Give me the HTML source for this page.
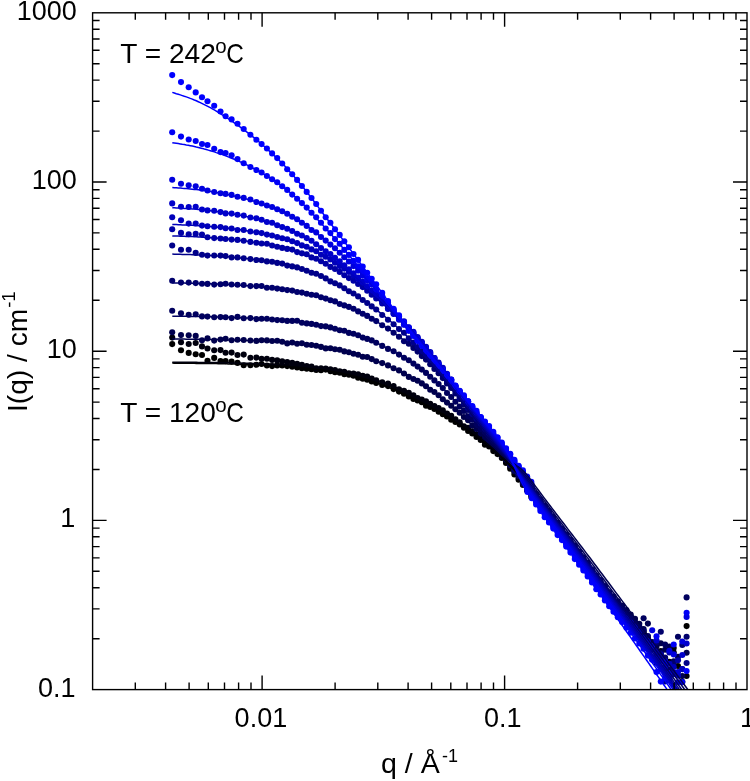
<!DOCTYPE html>
<html lang="en">
<head>
<meta charset="utf-8">
<title>I(q) vs q</title>
<style>
html,body{margin:0;padding:0;background:#fff;}
body{width:750px;height:781px;overflow:hidden;}
svg{display:block;}
</style>
</head>
<body>
<svg width="750" height="781" viewBox="0 0 750 781" role="img" aria-label="I(q) versus q, log-log plot">
<rect x="0" y="0" width="750" height="781" fill="#fff"/>
<g stroke="none">
<g fill="rgb(0,0,0)">
<circle cx="172.2" cy="344.1" r="3.05"/><circle cx="181.0" cy="350.2" r="3.05"/><circle cx="188.7" cy="352.9" r="3.05"/><circle cx="195.7" cy="354.3" r="3.05"/><circle cx="202.0" cy="355.0" r="3.05"/><circle cx="207.5" cy="360.8" r="3.05"/><circle cx="214.2" cy="357.9" r="3.05"/><circle cx="220.5" cy="361.0" r="3.05"/><circle cx="225.6" cy="361.1" r="3.05"/><circle cx="231.6" cy="361.6" r="3.05"/><circle cx="237.5" cy="362.9" r="3.05"/><circle cx="243.7" cy="365.3" r="3.05"/><circle cx="250.4" cy="365.3" r="3.05"/><circle cx="256.4" cy="364.8" r="3.05"/><circle cx="261.6" cy="364.0" r="3.05"/><circle cx="266.9" cy="365.5" r="3.05"/><circle cx="272.1" cy="366.1" r="3.05"/><circle cx="277.2" cy="365.4" r="3.05"/><circle cx="282.2" cy="365.5" r="3.05"/><circle cx="287.2" cy="366.1" r="3.05"/><circle cx="292.2" cy="366.8" r="3.05"/><circle cx="297.1" cy="367.4" r="3.05"/><circle cx="301.9" cy="368.2" r="3.05"/><circle cx="306.7" cy="368.7" r="3.05"/><circle cx="311.5" cy="369.3" r="3.05"/><circle cx="316.2" cy="370.0" r="3.05"/><circle cx="321.0" cy="370.2" r="3.05"/><circle cx="325.7" cy="369.6" r="3.05"/><circle cx="330.4" cy="371.3" r="3.05"/><circle cx="335.0" cy="372.2" r="3.05"/><circle cx="339.7" cy="372.8" r="3.05"/><circle cx="344.3" cy="374.2" r="3.05"/><circle cx="348.9" cy="374.8" r="3.05"/><circle cx="353.5" cy="375.7" r="3.05"/><circle cx="358.1" cy="377.7" r="3.05"/><circle cx="362.7" cy="378.7" r="3.05"/><circle cx="367.2" cy="379.8" r="3.05"/><circle cx="371.7" cy="381.5" r="3.05"/><circle cx="376.2" cy="383.0" r="3.05"/><circle cx="382.2" cy="384.9" r="3.05"/><circle cx="388.0" cy="386.1" r="3.05"/><circle cx="393.6" cy="389.1" r="3.05"/><circle cx="399.0" cy="391.6" r="3.05"/><circle cx="404.0" cy="393.7" r="3.05"/><circle cx="408.8" cy="396.4" r="3.05"/><circle cx="413.4" cy="399.0" r="3.05"/><circle cx="417.6" cy="400.4" r="3.05"/><circle cx="421.8" cy="402.3" r="3.05"/><circle cx="426.0" cy="405.7" r="3.05"/><circle cx="430.2" cy="406.9" r="3.05"/><circle cx="434.4" cy="408.9" r="3.05"/><circle cx="438.6" cy="411.8" r="3.05"/><circle cx="442.8" cy="414.3" r="3.05"/><circle cx="447.0" cy="416.4" r="3.05"/><circle cx="451.2" cy="419.7" r="3.05"/><circle cx="455.4" cy="421.9" r="3.05"/><circle cx="459.7" cy="424.5" r="3.05"/><circle cx="463.9" cy="427.8" r="3.05"/><circle cx="468.1" cy="431.0" r="3.05"/><circle cx="472.3" cy="433.4" r="3.05"/><circle cx="476.5" cy="437.0" r="3.05"/><circle cx="480.7" cy="440.0" r="3.05"/><circle cx="484.9" cy="444.7" r="3.05"/><circle cx="489.1" cy="446.5" r="3.05"/><circle cx="493.3" cy="451.1" r="3.05"/><circle cx="497.5" cy="454.1" r="3.05"/><circle cx="501.8" cy="458.0" r="3.05"/><circle cx="506.0" cy="463.0" r="3.05"/><circle cx="510.2" cy="468.7" r="3.05"/><circle cx="514.4" cy="474.5" r="3.05"/><circle cx="518.6" cy="479.7" r="3.05"/><circle cx="522.9" cy="484.9" r="3.05"/><circle cx="527.1" cy="490.6" r="3.05"/><circle cx="531.3" cy="496.9" r="3.05"/><circle cx="527.5" cy="488.5" r="3.05"/><circle cx="531.8" cy="494.2" r="3.05"/><circle cx="536.1" cy="500.4" r="3.05"/><circle cx="540.4" cy="506.6" r="3.05"/><circle cx="544.7" cy="512.1" r="3.05"/><circle cx="549.0" cy="517.5" r="3.05"/><circle cx="553.3" cy="523.5" r="3.05"/><circle cx="557.6" cy="529.3" r="3.05"/><circle cx="561.9" cy="536.2" r="3.05"/><circle cx="566.2" cy="541.2" r="3.05"/><circle cx="570.5" cy="547.8" r="3.05"/><circle cx="574.8" cy="553.5" r="3.05"/><circle cx="579.1" cy="559.7" r="3.05"/><circle cx="583.4" cy="565.3" r="3.05"/><circle cx="587.7" cy="570.9" r="3.05"/><circle cx="592.0" cy="576.8" r="3.05"/><circle cx="596.3" cy="582.9" r="3.05"/><circle cx="600.6" cy="588.7" r="3.05"/><circle cx="604.9" cy="594.1" r="3.05"/><circle cx="609.2" cy="599.5" r="3.05"/><circle cx="613.5" cy="605.2" r="3.05"/><circle cx="617.8" cy="608.8" r="3.05"/><circle cx="622.1" cy="614.1" r="3.05"/><circle cx="626.4" cy="618.1" r="3.05"/><circle cx="630.7" cy="622.8" r="3.05"/><circle cx="635.0" cy="627.4" r="3.05"/><circle cx="639.3" cy="631.5" r="3.05"/><circle cx="643.6" cy="633.6" r="3.05"/><circle cx="647.9" cy="637.7" r="3.05"/><circle cx="652.2" cy="644.0" r="3.05"/><circle cx="656.5" cy="662.8" r="3.05"/><circle cx="660.8" cy="655.1" r="3.05"/><circle cx="665.1" cy="658.6" r="3.05"/><circle cx="669.4" cy="679.0" r="3.05"/><circle cx="673.7" cy="652.3" r="3.05"/><circle cx="678.0" cy="666.0" r="3.05"/><circle cx="682.3" cy="681.7" r="3.05"/><circle cx="686.6" cy="626.1" r="3.05"/>
</g>
<g fill="rgb(0,0,14)">
<circle cx="172.2" cy="337.6" r="3.05"/><circle cx="181.0" cy="342.2" r="3.05"/><circle cx="188.7" cy="344.0" r="3.05"/><circle cx="195.7" cy="343.0" r="3.05"/><circle cx="202.0" cy="346.4" r="3.05"/><circle cx="207.5" cy="348.5" r="3.05"/><circle cx="214.2" cy="350.3" r="3.05"/><circle cx="220.5" cy="350.1" r="3.05"/><circle cx="225.6" cy="352.8" r="3.05"/><circle cx="231.6" cy="352.6" r="3.05"/><circle cx="237.5" cy="355.0" r="3.05"/><circle cx="243.7" cy="354.6" r="3.05"/><circle cx="250.4" cy="357.7" r="3.05"/><circle cx="256.4" cy="357.6" r="3.05"/><circle cx="261.6" cy="358.8" r="3.05"/><circle cx="266.9" cy="358.8" r="3.05"/><circle cx="272.1" cy="359.9" r="3.05"/><circle cx="277.2" cy="360.4" r="3.05"/><circle cx="282.2" cy="361.3" r="3.05"/><circle cx="287.2" cy="362.0" r="3.05"/><circle cx="292.2" cy="362.9" r="3.05"/><circle cx="297.1" cy="363.9" r="3.05"/><circle cx="301.9" cy="364.9" r="3.05"/><circle cx="306.7" cy="366.0" r="3.05"/><circle cx="311.5" cy="366.5" r="3.05"/><circle cx="316.2" cy="368.4" r="3.05"/><circle cx="321.0" cy="368.3" r="3.05"/><circle cx="325.7" cy="368.5" r="3.05"/><circle cx="330.4" cy="369.4" r="3.05"/><circle cx="335.0" cy="370.1" r="3.05"/><circle cx="339.7" cy="371.2" r="3.05"/><circle cx="344.3" cy="371.7" r="3.05"/><circle cx="348.9" cy="373.3" r="3.05"/><circle cx="353.5" cy="373.6" r="3.05"/><circle cx="358.1" cy="374.2" r="3.05"/><circle cx="362.7" cy="375.9" r="3.05"/><circle cx="367.2" cy="376.6" r="3.05"/><circle cx="371.7" cy="378.6" r="3.05"/><circle cx="376.2" cy="380.4" r="3.05"/><circle cx="382.2" cy="382.3" r="3.05"/><circle cx="388.0" cy="383.6" r="3.05"/><circle cx="393.6" cy="386.0" r="3.05"/><circle cx="399.0" cy="389.2" r="3.05"/><circle cx="404.0" cy="390.8" r="3.05"/><circle cx="408.8" cy="392.9" r="3.05"/><circle cx="413.4" cy="395.4" r="3.05"/><circle cx="417.6" cy="398.0" r="3.05"/><circle cx="421.8" cy="399.6" r="3.05"/><circle cx="426.0" cy="401.3" r="3.05"/><circle cx="430.2" cy="403.7" r="3.05"/><circle cx="434.4" cy="406.1" r="3.05"/><circle cx="438.6" cy="408.0" r="3.05"/><circle cx="442.8" cy="410.4" r="3.05"/><circle cx="447.0" cy="413.5" r="3.05"/><circle cx="451.2" cy="415.9" r="3.05"/><circle cx="455.4" cy="419.2" r="3.05"/><circle cx="459.7" cy="422.2" r="3.05"/><circle cx="463.9" cy="426.2" r="3.05"/><circle cx="468.1" cy="427.9" r="3.05"/><circle cx="472.3" cy="431.4" r="3.05"/><circle cx="476.5" cy="434.7" r="3.05"/><circle cx="480.7" cy="438.4" r="3.05"/><circle cx="484.9" cy="442.1" r="3.05"/><circle cx="489.1" cy="445.0" r="3.05"/><circle cx="493.3" cy="448.6" r="3.05"/><circle cx="497.5" cy="452.0" r="3.05"/><circle cx="501.8" cy="456.3" r="3.05"/><circle cx="506.0" cy="461.6" r="3.05"/><circle cx="510.2" cy="466.9" r="3.05"/><circle cx="514.4" cy="472.0" r="3.05"/><circle cx="518.6" cy="478.0" r="3.05"/><circle cx="522.9" cy="483.9" r="3.05"/><circle cx="527.1" cy="489.9" r="3.05"/><circle cx="531.3" cy="495.0" r="3.05"/><circle cx="527.5" cy="486.5" r="3.05"/><circle cx="531.8" cy="492.7" r="3.05"/><circle cx="536.1" cy="499.7" r="3.05"/><circle cx="540.4" cy="504.4" r="3.05"/><circle cx="544.7" cy="511.0" r="3.05"/><circle cx="549.0" cy="517.1" r="3.05"/><circle cx="553.3" cy="522.8" r="3.05"/><circle cx="557.6" cy="528.5" r="3.05"/><circle cx="561.9" cy="534.7" r="3.05"/><circle cx="566.2" cy="540.5" r="3.05"/><circle cx="570.5" cy="546.3" r="3.05"/><circle cx="574.8" cy="551.5" r="3.05"/><circle cx="579.1" cy="558.0" r="3.05"/><circle cx="583.4" cy="563.6" r="3.05"/><circle cx="587.7" cy="569.6" r="3.05"/><circle cx="592.0" cy="575.8" r="3.05"/><circle cx="596.3" cy="581.9" r="3.05"/><circle cx="600.6" cy="587.8" r="3.05"/><circle cx="604.9" cy="592.8" r="3.05"/><circle cx="609.2" cy="598.4" r="3.05"/><circle cx="613.5" cy="603.3" r="3.05"/><circle cx="617.8" cy="607.8" r="3.05"/><circle cx="622.1" cy="612.1" r="3.05"/><circle cx="626.4" cy="615.6" r="3.05"/><circle cx="630.7" cy="619.6" r="3.05"/><circle cx="635.0" cy="623.9" r="3.05"/><circle cx="639.3" cy="627.2" r="3.05"/><circle cx="643.6" cy="631.3" r="3.05"/><circle cx="647.9" cy="637.1" r="3.05"/><circle cx="652.2" cy="644.5" r="3.05"/><circle cx="656.5" cy="643.0" r="3.05"/><circle cx="660.8" cy="651.1" r="3.05"/><circle cx="665.1" cy="660.8" r="3.05"/><circle cx="669.4" cy="661.8" r="3.05"/><circle cx="673.7" cy="648.1" r="3.05"/><circle cx="686.6" cy="676.0" r="3.05"/>
</g>
<g fill="rgb(0,0,78)">
<circle cx="172.2" cy="332.3" r="3.05"/><circle cx="181.0" cy="335.1" r="3.05"/><circle cx="188.7" cy="335.2" r="3.05"/><circle cx="195.7" cy="335.9" r="3.05"/><circle cx="202.0" cy="340.3" r="3.05"/><circle cx="207.5" cy="338.4" r="3.05"/><circle cx="214.2" cy="340.6" r="3.05"/><circle cx="220.5" cy="339.6" r="3.05"/><circle cx="225.6" cy="338.7" r="3.05"/><circle cx="231.6" cy="340.2" r="3.05"/><circle cx="237.5" cy="339.8" r="3.05"/><circle cx="243.7" cy="340.0" r="3.05"/><circle cx="250.4" cy="340.5" r="3.05"/><circle cx="256.4" cy="340.9" r="3.05"/><circle cx="261.6" cy="340.3" r="3.05"/><circle cx="266.9" cy="340.4" r="3.05"/><circle cx="272.1" cy="341.0" r="3.05"/><circle cx="277.2" cy="340.8" r="3.05"/><circle cx="282.2" cy="341.7" r="3.05"/><circle cx="287.2" cy="343.4" r="3.05"/><circle cx="292.2" cy="342.5" r="3.05"/><circle cx="297.1" cy="343.8" r="3.05"/><circle cx="301.9" cy="343.3" r="3.05"/><circle cx="306.7" cy="344.7" r="3.05"/><circle cx="311.5" cy="345.0" r="3.05"/><circle cx="316.2" cy="345.8" r="3.05"/><circle cx="321.0" cy="346.9" r="3.05"/><circle cx="325.7" cy="348.4" r="3.05"/><circle cx="330.4" cy="348.3" r="3.05"/><circle cx="335.0" cy="349.2" r="3.05"/><circle cx="339.7" cy="349.8" r="3.05"/><circle cx="344.3" cy="351.4" r="3.05"/><circle cx="348.9" cy="352.2" r="3.05"/><circle cx="353.5" cy="353.8" r="3.05"/><circle cx="358.1" cy="354.8" r="3.05"/><circle cx="362.7" cy="356.8" r="3.05"/><circle cx="367.2" cy="357.0" r="3.05"/><circle cx="371.7" cy="359.1" r="3.05"/><circle cx="376.2" cy="361.2" r="3.05"/><circle cx="382.2" cy="363.1" r="3.05"/><circle cx="388.0" cy="365.4" r="3.05"/><circle cx="393.6" cy="368.2" r="3.05"/><circle cx="399.0" cy="370.4" r="3.05"/><circle cx="404.0" cy="373.5" r="3.05"/><circle cx="408.8" cy="376.9" r="3.05"/><circle cx="413.4" cy="379.0" r="3.05"/><circle cx="417.6" cy="380.7" r="3.05"/><circle cx="421.8" cy="383.4" r="3.05"/><circle cx="426.0" cy="386.3" r="3.05"/><circle cx="430.2" cy="389.7" r="3.05"/><circle cx="434.4" cy="392.0" r="3.05"/><circle cx="438.6" cy="395.2" r="3.05"/><circle cx="442.8" cy="399.2" r="3.05"/><circle cx="447.0" cy="402.6" r="3.05"/><circle cx="451.2" cy="405.8" r="3.05"/><circle cx="455.4" cy="409.2" r="3.05"/><circle cx="459.7" cy="412.8" r="3.05"/><circle cx="463.9" cy="417.0" r="3.05"/><circle cx="468.1" cy="420.3" r="3.05"/><circle cx="472.3" cy="425.6" r="3.05"/><circle cx="476.5" cy="429.1" r="3.05"/><circle cx="480.7" cy="433.7" r="3.05"/><circle cx="484.9" cy="438.6" r="3.05"/><circle cx="489.1" cy="442.5" r="3.05"/><circle cx="493.3" cy="445.8" r="3.05"/><circle cx="497.5" cy="451.1" r="3.05"/><circle cx="501.8" cy="455.7" r="3.05"/><circle cx="506.0" cy="459.6" r="3.05"/><circle cx="510.2" cy="465.1" r="3.05"/><circle cx="514.4" cy="471.2" r="3.05"/><circle cx="518.6" cy="476.0" r="3.05"/><circle cx="522.9" cy="483.4" r="3.05"/><circle cx="527.1" cy="487.0" r="3.05"/><circle cx="531.3" cy="493.4" r="3.05"/><circle cx="527.5" cy="481.8" r="3.05"/><circle cx="531.8" cy="487.9" r="3.05"/><circle cx="536.1" cy="493.8" r="3.05"/><circle cx="540.4" cy="499.6" r="3.05"/><circle cx="544.7" cy="505.9" r="3.05"/><circle cx="549.0" cy="510.6" r="3.05"/><circle cx="553.3" cy="517.1" r="3.05"/><circle cx="557.6" cy="522.7" r="3.05"/><circle cx="561.9" cy="528.7" r="3.05"/><circle cx="566.2" cy="534.5" r="3.05"/><circle cx="570.5" cy="539.8" r="3.05"/><circle cx="574.8" cy="545.6" r="3.05"/><circle cx="579.1" cy="551.9" r="3.05"/><circle cx="583.4" cy="557.5" r="3.05"/><circle cx="587.7" cy="562.9" r="3.05"/><circle cx="592.0" cy="569.7" r="3.05"/><circle cx="596.3" cy="575.6" r="3.05"/><circle cx="600.6" cy="580.0" r="3.05"/><circle cx="604.9" cy="586.1" r="3.05"/><circle cx="609.2" cy="592.2" r="3.05"/><circle cx="613.5" cy="596.6" r="3.05"/><circle cx="617.8" cy="601.2" r="3.05"/><circle cx="622.1" cy="605.7" r="3.05"/><circle cx="626.4" cy="610.1" r="3.05"/><circle cx="630.7" cy="614.6" r="3.05"/><circle cx="635.0" cy="618.9" r="3.05"/><circle cx="639.3" cy="623.8" r="3.05"/><circle cx="643.6" cy="629.0" r="3.05"/><circle cx="647.9" cy="623.6" r="3.05"/><circle cx="652.2" cy="642.1" r="3.05"/><circle cx="656.5" cy="646.6" r="3.05"/><circle cx="660.8" cy="643.2" r="3.05"/><circle cx="665.1" cy="649.8" r="3.05"/><circle cx="669.4" cy="646.6" r="3.05"/><circle cx="673.7" cy="661.4" r="3.05"/><circle cx="678.0" cy="656.8" r="3.05"/><circle cx="682.3" cy="676.1" r="3.05"/><circle cx="686.6" cy="652.7" r="3.05"/>
</g>
<g fill="rgb(0,0,94)">
<circle cx="172.2" cy="310.7" r="3.05"/><circle cx="181.0" cy="313.3" r="3.05"/><circle cx="188.7" cy="314.8" r="3.05"/><circle cx="195.7" cy="314.2" r="3.05"/><circle cx="202.0" cy="316.4" r="3.05"/><circle cx="207.5" cy="316.6" r="3.05"/><circle cx="214.2" cy="317.2" r="3.05"/><circle cx="220.5" cy="317.1" r="3.05"/><circle cx="225.6" cy="317.2" r="3.05"/><circle cx="231.6" cy="318.1" r="3.05"/><circle cx="237.5" cy="316.9" r="3.05"/><circle cx="243.7" cy="318.3" r="3.05"/><circle cx="250.4" cy="318.1" r="3.05"/><circle cx="256.4" cy="319.1" r="3.05"/><circle cx="261.6" cy="318.8" r="3.05"/><circle cx="266.9" cy="318.7" r="3.05"/><circle cx="272.1" cy="319.5" r="3.05"/><circle cx="277.2" cy="320.1" r="3.05"/><circle cx="282.2" cy="320.2" r="3.05"/><circle cx="287.2" cy="320.9" r="3.05"/><circle cx="292.2" cy="320.9" r="3.05"/><circle cx="297.1" cy="320.7" r="3.05"/><circle cx="301.9" cy="322.8" r="3.05"/><circle cx="306.7" cy="323.4" r="3.05"/><circle cx="311.5" cy="323.9" r="3.05"/><circle cx="316.2" cy="324.7" r="3.05"/><circle cx="321.0" cy="326.1" r="3.05"/><circle cx="325.7" cy="326.4" r="3.05"/><circle cx="330.4" cy="327.4" r="3.05"/><circle cx="335.0" cy="328.7" r="3.05"/><circle cx="339.7" cy="330.3" r="3.05"/><circle cx="344.3" cy="330.7" r="3.05"/><circle cx="348.9" cy="332.9" r="3.05"/><circle cx="353.5" cy="333.8" r="3.05"/><circle cx="358.1" cy="335.2" r="3.05"/><circle cx="362.7" cy="337.6" r="3.05"/><circle cx="367.2" cy="338.9" r="3.05"/><circle cx="371.7" cy="340.4" r="3.05"/><circle cx="376.2" cy="342.7" r="3.05"/><circle cx="382.2" cy="345.9" r="3.05"/><circle cx="388.0" cy="348.9" r="3.05"/><circle cx="393.6" cy="351.3" r="3.05"/><circle cx="399.0" cy="354.6" r="3.05"/><circle cx="404.0" cy="357.7" r="3.05"/><circle cx="408.8" cy="360.2" r="3.05"/><circle cx="413.4" cy="363.6" r="3.05"/><circle cx="417.6" cy="366.6" r="3.05"/><circle cx="421.8" cy="369.6" r="3.05"/><circle cx="426.0" cy="372.9" r="3.05"/><circle cx="430.2" cy="376.7" r="3.05"/><circle cx="434.4" cy="380.4" r="3.05"/><circle cx="438.6" cy="384.0" r="3.05"/><circle cx="442.8" cy="388.1" r="3.05"/><circle cx="447.0" cy="393.0" r="3.05"/><circle cx="451.2" cy="397.0" r="3.05"/><circle cx="455.4" cy="401.8" r="3.05"/><circle cx="459.7" cy="406.5" r="3.05"/><circle cx="463.9" cy="410.9" r="3.05"/><circle cx="468.1" cy="416.3" r="3.05"/><circle cx="472.3" cy="419.7" r="3.05"/><circle cx="476.5" cy="425.2" r="3.05"/><circle cx="480.7" cy="429.4" r="3.05"/><circle cx="484.9" cy="435.2" r="3.05"/><circle cx="489.1" cy="440.0" r="3.05"/><circle cx="493.3" cy="443.1" r="3.05"/><circle cx="497.5" cy="448.4" r="3.05"/><circle cx="501.8" cy="453.9" r="3.05"/><circle cx="506.0" cy="459.0" r="3.05"/><circle cx="510.2" cy="464.6" r="3.05"/><circle cx="514.4" cy="469.9" r="3.05"/><circle cx="518.6" cy="475.8" r="3.05"/><circle cx="522.9" cy="481.6" r="3.05"/><circle cx="527.1" cy="486.9" r="3.05"/><circle cx="531.3" cy="493.3" r="3.05"/><circle cx="527.5" cy="483.6" r="3.05"/><circle cx="531.8" cy="489.0" r="3.05"/><circle cx="536.1" cy="495.6" r="3.05"/><circle cx="540.4" cy="501.1" r="3.05"/><circle cx="544.7" cy="506.8" r="3.05"/><circle cx="549.0" cy="513.1" r="3.05"/><circle cx="553.3" cy="518.5" r="3.05"/><circle cx="557.6" cy="524.3" r="3.05"/><circle cx="561.9" cy="529.8" r="3.05"/><circle cx="566.2" cy="536.1" r="3.05"/><circle cx="570.5" cy="542.1" r="3.05"/><circle cx="574.8" cy="548.0" r="3.05"/><circle cx="579.1" cy="553.4" r="3.05"/><circle cx="583.4" cy="559.6" r="3.05"/><circle cx="587.7" cy="565.0" r="3.05"/><circle cx="592.0" cy="570.9" r="3.05"/><circle cx="596.3" cy="577.0" r="3.05"/><circle cx="600.6" cy="583.0" r="3.05"/><circle cx="604.9" cy="588.2" r="3.05"/><circle cx="609.2" cy="593.9" r="3.05"/><circle cx="613.5" cy="599.4" r="3.05"/><circle cx="617.8" cy="604.9" r="3.05"/><circle cx="622.1" cy="609.9" r="3.05"/><circle cx="626.4" cy="615.8" r="3.05"/><circle cx="630.7" cy="620.5" r="3.05"/><circle cx="635.0" cy="626.0" r="3.05"/><circle cx="639.3" cy="630.8" r="3.05"/><circle cx="643.6" cy="618.3" r="3.05"/><circle cx="647.9" cy="641.0" r="3.05"/><circle cx="652.2" cy="649.6" r="3.05"/><circle cx="656.5" cy="651.8" r="3.05"/><circle cx="660.8" cy="652.8" r="3.05"/><circle cx="665.1" cy="644.5" r="3.05"/><circle cx="669.4" cy="672.6" r="3.05"/><circle cx="673.7" cy="673.5" r="3.05"/><circle cx="678.0" cy="636.7" r="3.05"/><circle cx="686.6" cy="597.4" r="3.05"/>
</g>
<g fill="rgb(0,0,108)">
<circle cx="172.2" cy="280.7" r="3.05"/><circle cx="181.0" cy="282.6" r="3.05"/><circle cx="188.7" cy="282.6" r="3.05"/><circle cx="195.7" cy="283.1" r="3.05"/><circle cx="202.0" cy="283.7" r="3.05"/><circle cx="207.5" cy="283.9" r="3.05"/><circle cx="214.2" cy="284.6" r="3.05"/><circle cx="220.5" cy="284.2" r="3.05"/><circle cx="225.6" cy="283.8" r="3.05"/><circle cx="231.6" cy="284.5" r="3.05"/><circle cx="237.5" cy="284.7" r="3.05"/><circle cx="243.7" cy="285.0" r="3.05"/><circle cx="250.4" cy="286.1" r="3.05"/><circle cx="256.4" cy="286.1" r="3.05"/><circle cx="261.6" cy="286.0" r="3.05"/><circle cx="266.9" cy="287.7" r="3.05"/><circle cx="272.1" cy="287.8" r="3.05"/><circle cx="277.2" cy="288.6" r="3.05"/><circle cx="282.2" cy="289.2" r="3.05"/><circle cx="287.2" cy="290.1" r="3.05"/><circle cx="292.2" cy="290.6" r="3.05"/><circle cx="297.1" cy="292.0" r="3.05"/><circle cx="301.9" cy="292.6" r="3.05"/><circle cx="306.7" cy="293.7" r="3.05"/><circle cx="311.5" cy="294.8" r="3.05"/><circle cx="316.2" cy="295.3" r="3.05"/><circle cx="321.0" cy="297.2" r="3.05"/><circle cx="325.7" cy="298.6" r="3.05"/><circle cx="330.4" cy="300.3" r="3.05"/><circle cx="335.0" cy="301.4" r="3.05"/><circle cx="339.7" cy="304.0" r="3.05"/><circle cx="344.3" cy="305.4" r="3.05"/><circle cx="348.9" cy="306.9" r="3.05"/><circle cx="353.5" cy="308.8" r="3.05"/><circle cx="358.1" cy="311.4" r="3.05"/><circle cx="362.7" cy="313.7" r="3.05"/><circle cx="367.2" cy="315.9" r="3.05"/><circle cx="371.7" cy="318.7" r="3.05"/><circle cx="376.2" cy="321.1" r="3.05"/><circle cx="382.2" cy="325.2" r="3.05"/><circle cx="388.0" cy="328.6" r="3.05"/><circle cx="393.6" cy="332.7" r="3.05"/><circle cx="399.0" cy="336.8" r="3.05"/><circle cx="404.0" cy="341.2" r="3.05"/><circle cx="408.8" cy="343.8" r="3.05"/><circle cx="413.4" cy="347.9" r="3.05"/><circle cx="417.6" cy="351.6" r="3.05"/><circle cx="421.8" cy="356.1" r="3.05"/><circle cx="426.0" cy="359.6" r="3.05"/><circle cx="430.2" cy="364.2" r="3.05"/><circle cx="434.4" cy="368.9" r="3.05"/><circle cx="438.6" cy="373.2" r="3.05"/><circle cx="442.8" cy="378.1" r="3.05"/><circle cx="447.0" cy="383.4" r="3.05"/><circle cx="451.2" cy="388.0" r="3.05"/><circle cx="455.4" cy="393.5" r="3.05"/><circle cx="459.7" cy="399.1" r="3.05"/><circle cx="463.9" cy="404.7" r="3.05"/><circle cx="468.1" cy="409.9" r="3.05"/><circle cx="472.3" cy="414.6" r="3.05"/><circle cx="476.5" cy="420.5" r="3.05"/><circle cx="480.7" cy="426.3" r="3.05"/><circle cx="484.9" cy="431.5" r="3.05"/><circle cx="489.1" cy="436.5" r="3.05"/><circle cx="493.3" cy="441.4" r="3.05"/><circle cx="497.5" cy="447.3" r="3.05"/><circle cx="501.8" cy="451.8" r="3.05"/><circle cx="506.0" cy="456.8" r="3.05"/><circle cx="510.2" cy="462.5" r="3.05"/><circle cx="514.4" cy="469.3" r="3.05"/><circle cx="518.6" cy="474.4" r="3.05"/><circle cx="522.9" cy="480.6" r="3.05"/><circle cx="527.1" cy="485.4" r="3.05"/><circle cx="531.3" cy="491.9" r="3.05"/><circle cx="527.5" cy="484.8" r="3.05"/><circle cx="531.8" cy="491.7" r="3.05"/><circle cx="536.1" cy="497.0" r="3.05"/><circle cx="540.4" cy="502.6" r="3.05"/><circle cx="544.7" cy="508.6" r="3.05"/><circle cx="549.0" cy="514.7" r="3.05"/><circle cx="553.3" cy="520.8" r="3.05"/><circle cx="557.6" cy="526.1" r="3.05"/><circle cx="561.9" cy="531.4" r="3.05"/><circle cx="566.2" cy="537.7" r="3.05"/><circle cx="570.5" cy="543.6" r="3.05"/><circle cx="574.8" cy="549.4" r="3.05"/><circle cx="579.1" cy="555.7" r="3.05"/><circle cx="583.4" cy="561.1" r="3.05"/><circle cx="587.7" cy="567.2" r="3.05"/><circle cx="592.0" cy="572.4" r="3.05"/><circle cx="596.3" cy="579.0" r="3.05"/><circle cx="600.6" cy="585.2" r="3.05"/><circle cx="604.9" cy="590.2" r="3.05"/><circle cx="609.2" cy="595.3" r="3.05"/><circle cx="613.5" cy="600.3" r="3.05"/><circle cx="617.8" cy="605.6" r="3.05"/><circle cx="622.1" cy="609.2" r="3.05"/><circle cx="626.4" cy="613.9" r="3.05"/><circle cx="630.7" cy="618.4" r="3.05"/><circle cx="635.0" cy="622.8" r="3.05"/><circle cx="639.3" cy="626.7" r="3.05"/><circle cx="643.6" cy="630.7" r="3.05"/><circle cx="647.9" cy="636.0" r="3.05"/><circle cx="652.2" cy="645.2" r="3.05"/><circle cx="656.5" cy="642.4" r="3.05"/><circle cx="660.8" cy="631.8" r="3.05"/><circle cx="665.1" cy="657.5" r="3.05"/><circle cx="669.4" cy="669.6" r="3.05"/><circle cx="673.7" cy="663.0" r="3.05"/><circle cx="682.3" cy="644.9" r="3.05"/><circle cx="686.6" cy="636.7" r="3.05"/>
</g>
<g fill="rgb(0,0,138)">
<circle cx="172.2" cy="245.5" r="3.05"/><circle cx="181.0" cy="249.8" r="3.05"/><circle cx="188.7" cy="249.8" r="3.05"/><circle cx="195.7" cy="252.9" r="3.05"/><circle cx="202.0" cy="254.7" r="3.05"/><circle cx="207.5" cy="255.6" r="3.05"/><circle cx="214.2" cy="255.5" r="3.05"/><circle cx="220.5" cy="255.6" r="3.05"/><circle cx="225.6" cy="256.1" r="3.05"/><circle cx="231.6" cy="257.4" r="3.05"/><circle cx="237.5" cy="257.4" r="3.05"/><circle cx="243.7" cy="258.2" r="3.05"/><circle cx="250.4" cy="259.1" r="3.05"/><circle cx="256.4" cy="260.0" r="3.05"/><circle cx="261.6" cy="260.3" r="3.05"/><circle cx="266.9" cy="261.4" r="3.05"/><circle cx="272.1" cy="261.7" r="3.05"/><circle cx="277.2" cy="262.9" r="3.05"/><circle cx="282.2" cy="263.6" r="3.05"/><circle cx="287.2" cy="265.6" r="3.05"/><circle cx="292.2" cy="266.4" r="3.05"/><circle cx="297.1" cy="267.4" r="3.05"/><circle cx="301.9" cy="269.0" r="3.05"/><circle cx="306.7" cy="270.7" r="3.05"/><circle cx="311.5" cy="272.8" r="3.05"/><circle cx="316.2" cy="273.7" r="3.05"/><circle cx="321.0" cy="276.0" r="3.05"/><circle cx="325.7" cy="278.4" r="3.05"/><circle cx="330.4" cy="281.4" r="3.05"/><circle cx="335.0" cy="283.3" r="3.05"/><circle cx="339.7" cy="285.4" r="3.05"/><circle cx="344.3" cy="288.2" r="3.05"/><circle cx="348.9" cy="291.3" r="3.05"/><circle cx="353.5" cy="293.5" r="3.05"/><circle cx="358.1" cy="296.4" r="3.05"/><circle cx="362.7" cy="300.0" r="3.05"/><circle cx="367.2" cy="303.0" r="3.05"/><circle cx="371.7" cy="306.4" r="3.05"/><circle cx="376.2" cy="309.5" r="3.05"/><circle cx="382.2" cy="315.0" r="3.05"/><circle cx="388.0" cy="319.8" r="3.05"/><circle cx="393.6" cy="324.3" r="3.05"/><circle cx="399.0" cy="329.1" r="3.05"/><circle cx="404.0" cy="332.8" r="3.05"/><circle cx="408.8" cy="338.3" r="3.05"/><circle cx="413.4" cy="342.5" r="3.05"/><circle cx="417.6" cy="347.1" r="3.05"/><circle cx="421.8" cy="351.6" r="3.05"/><circle cx="426.0" cy="355.8" r="3.05"/><circle cx="430.2" cy="360.0" r="3.05"/><circle cx="434.4" cy="365.6" r="3.05"/><circle cx="438.6" cy="370.2" r="3.05"/><circle cx="442.8" cy="375.4" r="3.05"/><circle cx="447.0" cy="380.6" r="3.05"/><circle cx="451.2" cy="386.1" r="3.05"/><circle cx="455.4" cy="390.7" r="3.05"/><circle cx="459.7" cy="397.5" r="3.05"/><circle cx="463.9" cy="402.5" r="3.05"/><circle cx="468.1" cy="408.3" r="3.05"/><circle cx="472.3" cy="414.1" r="3.05"/><circle cx="476.5" cy="418.7" r="3.05"/><circle cx="480.7" cy="423.3" r="3.05"/><circle cx="484.9" cy="429.0" r="3.05"/><circle cx="489.1" cy="434.2" r="3.05"/><circle cx="493.3" cy="439.9" r="3.05"/><circle cx="497.5" cy="445.4" r="3.05"/><circle cx="501.8" cy="449.7" r="3.05"/><circle cx="506.0" cy="456.2" r="3.05"/><circle cx="510.2" cy="460.9" r="3.05"/><circle cx="514.4" cy="467.4" r="3.05"/><circle cx="518.6" cy="472.9" r="3.05"/><circle cx="522.9" cy="478.5" r="3.05"/><circle cx="527.1" cy="484.3" r="3.05"/><circle cx="531.3" cy="489.7" r="3.05"/><circle cx="527.5" cy="485.4" r="3.05"/><circle cx="531.8" cy="492.0" r="3.05"/><circle cx="536.1" cy="498.6" r="3.05"/><circle cx="540.4" cy="504.6" r="3.05"/><circle cx="544.7" cy="510.3" r="3.05"/><circle cx="549.0" cy="516.0" r="3.05"/><circle cx="553.3" cy="521.4" r="3.05"/><circle cx="557.6" cy="528.0" r="3.05"/><circle cx="561.9" cy="533.3" r="3.05"/><circle cx="566.2" cy="539.2" r="3.05"/><circle cx="570.5" cy="544.9" r="3.05"/><circle cx="574.8" cy="550.8" r="3.05"/><circle cx="579.1" cy="556.5" r="3.05"/><circle cx="583.4" cy="562.4" r="3.05"/><circle cx="587.7" cy="568.0" r="3.05"/><circle cx="592.0" cy="574.1" r="3.05"/><circle cx="596.3" cy="581.0" r="3.05"/><circle cx="600.6" cy="586.0" r="3.05"/><circle cx="604.9" cy="591.8" r="3.05"/><circle cx="609.2" cy="597.7" r="3.05"/><circle cx="613.5" cy="603.4" r="3.05"/><circle cx="617.8" cy="608.2" r="3.05"/><circle cx="622.1" cy="614.0" r="3.05"/><circle cx="626.4" cy="619.7" r="3.05"/><circle cx="630.7" cy="624.8" r="3.05"/><circle cx="635.0" cy="630.0" r="3.05"/><circle cx="639.3" cy="635.8" r="3.05"/><circle cx="643.6" cy="642.5" r="3.05"/><circle cx="647.9" cy="648.4" r="3.05"/><circle cx="652.2" cy="659.3" r="3.05"/><circle cx="656.5" cy="660.0" r="3.05"/><circle cx="660.8" cy="659.7" r="3.05"/><circle cx="665.1" cy="681.5" r="3.05"/><circle cx="669.4" cy="676.2" r="3.05"/><circle cx="673.7" cy="672.2" r="3.05"/><circle cx="682.3" cy="669.1" r="3.05"/><circle cx="686.6" cy="663.0" r="3.05"/>
</g>
<g fill="rgb(0,0,166)">
<circle cx="172.2" cy="229.3" r="3.05"/><circle cx="181.0" cy="232.9" r="3.05"/><circle cx="188.7" cy="234.3" r="3.05"/><circle cx="195.7" cy="233.9" r="3.05"/><circle cx="202.0" cy="234.5" r="3.05"/><circle cx="207.5" cy="237.2" r="3.05"/><circle cx="214.2" cy="238.1" r="3.05"/><circle cx="220.5" cy="238.5" r="3.05"/><circle cx="225.6" cy="239.0" r="3.05"/><circle cx="231.6" cy="239.6" r="3.05"/><circle cx="237.5" cy="239.9" r="3.05"/><circle cx="243.7" cy="240.7" r="3.05"/><circle cx="250.4" cy="241.9" r="3.05"/><circle cx="256.4" cy="242.7" r="3.05"/><circle cx="261.6" cy="243.5" r="3.05"/><circle cx="266.9" cy="243.7" r="3.05"/><circle cx="272.1" cy="245.5" r="3.05"/><circle cx="277.2" cy="246.8" r="3.05"/><circle cx="282.2" cy="247.9" r="3.05"/><circle cx="287.2" cy="248.9" r="3.05"/><circle cx="292.2" cy="249.6" r="3.05"/><circle cx="297.1" cy="252.1" r="3.05"/><circle cx="301.9" cy="253.4" r="3.05"/><circle cx="306.7" cy="254.3" r="3.05"/><circle cx="311.5" cy="257.4" r="3.05"/><circle cx="316.2" cy="258.8" r="3.05"/><circle cx="321.0" cy="261.2" r="3.05"/><circle cx="325.7" cy="263.8" r="3.05"/><circle cx="330.4" cy="266.9" r="3.05"/><circle cx="335.0" cy="269.0" r="3.05"/><circle cx="339.7" cy="271.9" r="3.05"/><circle cx="344.3" cy="275.2" r="3.05"/><circle cx="348.9" cy="278.1" r="3.05"/><circle cx="353.5" cy="280.8" r="3.05"/><circle cx="358.1" cy="284.0" r="3.05"/><circle cx="362.7" cy="287.1" r="3.05"/><circle cx="367.2" cy="290.7" r="3.05"/><circle cx="371.7" cy="294.7" r="3.05"/><circle cx="376.2" cy="298.4" r="3.05"/><circle cx="382.2" cy="303.4" r="3.05"/><circle cx="388.0" cy="308.9" r="3.05"/><circle cx="393.6" cy="313.6" r="3.05"/><circle cx="399.0" cy="318.8" r="3.05"/><circle cx="404.0" cy="324.0" r="3.05"/><circle cx="408.8" cy="328.9" r="3.05"/><circle cx="413.4" cy="333.9" r="3.05"/><circle cx="417.6" cy="338.4" r="3.05"/><circle cx="421.8" cy="343.0" r="3.05"/><circle cx="426.0" cy="348.2" r="3.05"/><circle cx="430.2" cy="352.9" r="3.05"/><circle cx="434.4" cy="358.0" r="3.05"/><circle cx="438.6" cy="364.2" r="3.05"/><circle cx="442.8" cy="369.6" r="3.05"/><circle cx="447.0" cy="375.4" r="3.05"/><circle cx="451.2" cy="380.5" r="3.05"/><circle cx="455.4" cy="386.9" r="3.05"/><circle cx="459.7" cy="392.6" r="3.05"/><circle cx="463.9" cy="398.3" r="3.05"/><circle cx="468.1" cy="403.6" r="3.05"/><circle cx="472.3" cy="410.1" r="3.05"/><circle cx="476.5" cy="416.4" r="3.05"/><circle cx="480.7" cy="421.8" r="3.05"/><circle cx="484.9" cy="427.1" r="3.05"/><circle cx="489.1" cy="432.9" r="3.05"/><circle cx="493.3" cy="438.8" r="3.05"/><circle cx="497.5" cy="442.6" r="3.05"/><circle cx="501.8" cy="449.2" r="3.05"/><circle cx="506.0" cy="455.0" r="3.05"/><circle cx="510.2" cy="460.6" r="3.05"/><circle cx="514.4" cy="466.8" r="3.05"/><circle cx="518.6" cy="472.2" r="3.05"/><circle cx="522.9" cy="477.5" r="3.05"/><circle cx="527.1" cy="483.2" r="3.05"/><circle cx="531.3" cy="489.2" r="3.05"/><circle cx="527.5" cy="486.8" r="3.05"/><circle cx="531.8" cy="493.2" r="3.05"/><circle cx="536.1" cy="499.5" r="3.05"/><circle cx="540.4" cy="504.8" r="3.05"/><circle cx="544.7" cy="510.8" r="3.05"/><circle cx="549.0" cy="516.8" r="3.05"/><circle cx="553.3" cy="523.1" r="3.05"/><circle cx="557.6" cy="528.5" r="3.05"/><circle cx="561.9" cy="534.9" r="3.05"/><circle cx="566.2" cy="539.9" r="3.05"/><circle cx="570.5" cy="546.0" r="3.05"/><circle cx="574.8" cy="551.8" r="3.05"/><circle cx="579.1" cy="558.0" r="3.05"/><circle cx="583.4" cy="563.9" r="3.05"/><circle cx="587.7" cy="568.9" r="3.05"/><circle cx="592.0" cy="575.0" r="3.05"/><circle cx="596.3" cy="581.4" r="3.05"/><circle cx="600.6" cy="586.9" r="3.05"/><circle cx="604.9" cy="592.3" r="3.05"/><circle cx="609.2" cy="598.8" r="3.05"/><circle cx="613.5" cy="603.9" r="3.05"/><circle cx="617.8" cy="609.1" r="3.05"/><circle cx="622.1" cy="613.9" r="3.05"/><circle cx="626.4" cy="619.3" r="3.05"/><circle cx="630.7" cy="623.8" r="3.05"/><circle cx="635.0" cy="629.1" r="3.05"/><circle cx="639.3" cy="633.3" r="3.05"/><circle cx="643.6" cy="641.0" r="3.05"/><circle cx="647.9" cy="646.4" r="3.05"/><circle cx="652.2" cy="648.0" r="3.05"/><circle cx="656.5" cy="654.0" r="3.05"/><circle cx="660.8" cy="654.4" r="3.05"/><circle cx="665.1" cy="668.5" r="3.05"/><circle cx="669.4" cy="652.4" r="3.05"/><circle cx="673.7" cy="674.1" r="3.05"/><circle cx="678.0" cy="660.2" r="3.05"/>
</g>
<g fill="rgb(0,0,186)">
<circle cx="172.2" cy="217.3" r="3.05"/><circle cx="181.0" cy="220.3" r="3.05"/><circle cx="188.7" cy="223.6" r="3.05"/><circle cx="195.7" cy="223.5" r="3.05"/><circle cx="202.0" cy="225.6" r="3.05"/><circle cx="207.5" cy="226.3" r="3.05"/><circle cx="214.2" cy="226.7" r="3.05"/><circle cx="220.5" cy="227.1" r="3.05"/><circle cx="225.6" cy="228.3" r="3.05"/><circle cx="231.6" cy="228.5" r="3.05"/><circle cx="237.5" cy="230.0" r="3.05"/><circle cx="243.7" cy="230.0" r="3.05"/><circle cx="250.4" cy="231.5" r="3.05"/><circle cx="256.4" cy="232.3" r="3.05"/><circle cx="261.6" cy="233.1" r="3.05"/><circle cx="266.9" cy="234.6" r="3.05"/><circle cx="272.1" cy="235.5" r="3.05"/><circle cx="277.2" cy="237.0" r="3.05"/><circle cx="282.2" cy="238.2" r="3.05"/><circle cx="287.2" cy="239.3" r="3.05"/><circle cx="292.2" cy="241.3" r="3.05"/><circle cx="297.1" cy="243.1" r="3.05"/><circle cx="301.9" cy="245.4" r="3.05"/><circle cx="306.7" cy="246.8" r="3.05"/><circle cx="311.5" cy="249.4" r="3.05"/><circle cx="316.2" cy="251.2" r="3.05"/><circle cx="321.0" cy="254.7" r="3.05"/><circle cx="325.7" cy="256.7" r="3.05"/><circle cx="330.4" cy="259.4" r="3.05"/><circle cx="335.0" cy="262.8" r="3.05"/><circle cx="339.7" cy="266.1" r="3.05"/><circle cx="344.3" cy="268.6" r="3.05"/><circle cx="348.9" cy="272.0" r="3.05"/><circle cx="353.5" cy="275.6" r="3.05"/><circle cx="358.1" cy="279.0" r="3.05"/><circle cx="362.7" cy="283.1" r="3.05"/><circle cx="367.2" cy="286.6" r="3.05"/><circle cx="371.7" cy="290.6" r="3.05"/><circle cx="376.2" cy="295.0" r="3.05"/><circle cx="382.2" cy="300.1" r="3.05"/><circle cx="388.0" cy="306.0" r="3.05"/><circle cx="393.6" cy="311.1" r="3.05"/><circle cx="399.0" cy="316.4" r="3.05"/><circle cx="404.0" cy="321.4" r="3.05"/><circle cx="408.8" cy="327.6" r="3.05"/><circle cx="413.4" cy="331.9" r="3.05"/><circle cx="417.6" cy="337.0" r="3.05"/><circle cx="421.8" cy="341.8" r="3.05"/><circle cx="426.0" cy="346.9" r="3.05"/><circle cx="430.2" cy="352.1" r="3.05"/><circle cx="434.4" cy="358.1" r="3.05"/><circle cx="438.6" cy="362.5" r="3.05"/><circle cx="442.8" cy="367.9" r="3.05"/><circle cx="447.0" cy="373.8" r="3.05"/><circle cx="451.2" cy="379.5" r="3.05"/><circle cx="455.4" cy="386.1" r="3.05"/><circle cx="459.7" cy="392.0" r="3.05"/><circle cx="463.9" cy="397.1" r="3.05"/><circle cx="468.1" cy="402.7" r="3.05"/><circle cx="472.3" cy="408.8" r="3.05"/><circle cx="476.5" cy="415.3" r="3.05"/><circle cx="480.7" cy="419.2" r="3.05"/><circle cx="484.9" cy="426.2" r="3.05"/><circle cx="489.1" cy="431.1" r="3.05"/><circle cx="493.3" cy="437.5" r="3.05"/><circle cx="497.5" cy="442.0" r="3.05"/><circle cx="501.8" cy="447.8" r="3.05"/><circle cx="506.0" cy="452.7" r="3.05"/><circle cx="510.2" cy="458.5" r="3.05"/><circle cx="514.4" cy="465.3" r="3.05"/><circle cx="518.6" cy="470.7" r="3.05"/><circle cx="522.9" cy="475.8" r="3.05"/><circle cx="527.1" cy="481.2" r="3.05"/><circle cx="531.3" cy="486.4" r="3.05"/><circle cx="527.5" cy="487.6" r="3.05"/><circle cx="531.8" cy="493.6" r="3.05"/><circle cx="536.1" cy="499.6" r="3.05"/><circle cx="540.4" cy="505.2" r="3.05"/><circle cx="544.7" cy="511.6" r="3.05"/><circle cx="549.0" cy="517.5" r="3.05"/><circle cx="553.3" cy="523.9" r="3.05"/><circle cx="557.6" cy="530.0" r="3.05"/><circle cx="561.9" cy="535.2" r="3.05"/><circle cx="566.2" cy="540.8" r="3.05"/><circle cx="570.5" cy="546.9" r="3.05"/><circle cx="574.8" cy="552.5" r="3.05"/><circle cx="579.1" cy="558.4" r="3.05"/><circle cx="583.4" cy="564.5" r="3.05"/><circle cx="587.7" cy="570.0" r="3.05"/><circle cx="592.0" cy="576.5" r="3.05"/><circle cx="596.3" cy="582.3" r="3.05"/><circle cx="600.6" cy="588.2" r="3.05"/><circle cx="604.9" cy="593.6" r="3.05"/><circle cx="609.2" cy="598.8" r="3.05"/><circle cx="613.5" cy="603.8" r="3.05"/><circle cx="617.8" cy="608.8" r="3.05"/><circle cx="622.1" cy="613.3" r="3.05"/><circle cx="626.4" cy="618.1" r="3.05"/><circle cx="630.7" cy="622.3" r="3.05"/><circle cx="635.0" cy="626.2" r="3.05"/><circle cx="639.3" cy="631.2" r="3.05"/><circle cx="643.6" cy="639.0" r="3.05"/><circle cx="647.9" cy="640.9" r="3.05"/><circle cx="652.2" cy="645.5" r="3.05"/><circle cx="656.5" cy="651.2" r="3.05"/><circle cx="660.8" cy="657.2" r="3.05"/><circle cx="665.1" cy="661.9" r="3.05"/><circle cx="669.4" cy="663.7" r="3.05"/><circle cx="673.7" cy="667.0" r="3.05"/><circle cx="678.0" cy="675.7" r="3.05"/><circle cx="682.3" cy="669.1" r="3.05"/>
</g>
<g fill="rgb(0,0,202)">
<circle cx="172.2" cy="203.4" r="3.05"/><circle cx="181.0" cy="206.7" r="3.05"/><circle cx="188.7" cy="207.0" r="3.05"/><circle cx="195.7" cy="206.7" r="3.05"/><circle cx="202.0" cy="209.5" r="3.05"/><circle cx="207.5" cy="210.4" r="3.05"/><circle cx="214.2" cy="210.8" r="3.05"/><circle cx="220.5" cy="212.1" r="3.05"/><circle cx="225.6" cy="213.4" r="3.05"/><circle cx="231.6" cy="213.6" r="3.05"/><circle cx="237.5" cy="214.7" r="3.05"/><circle cx="243.7" cy="215.6" r="3.05"/><circle cx="250.4" cy="217.5" r="3.05"/><circle cx="256.4" cy="218.3" r="3.05"/><circle cx="261.6" cy="219.7" r="3.05"/><circle cx="266.9" cy="222.0" r="3.05"/><circle cx="272.1" cy="222.8" r="3.05"/><circle cx="277.2" cy="225.2" r="3.05"/><circle cx="282.2" cy="227.1" r="3.05"/><circle cx="287.2" cy="228.7" r="3.05"/><circle cx="292.2" cy="231.0" r="3.05"/><circle cx="297.1" cy="233.8" r="3.05"/><circle cx="301.9" cy="235.5" r="3.05"/><circle cx="306.7" cy="238.1" r="3.05"/><circle cx="311.5" cy="240.7" r="3.05"/><circle cx="316.2" cy="244.3" r="3.05"/><circle cx="321.0" cy="248.1" r="3.05"/><circle cx="325.7" cy="251.3" r="3.05"/><circle cx="330.4" cy="254.1" r="3.05"/><circle cx="335.0" cy="257.7" r="3.05"/><circle cx="339.7" cy="261.4" r="3.05"/><circle cx="344.3" cy="265.4" r="3.05"/><circle cx="348.9" cy="269.2" r="3.05"/><circle cx="353.5" cy="273.4" r="3.05"/><circle cx="358.1" cy="277.6" r="3.05"/><circle cx="362.7" cy="281.8" r="3.05"/><circle cx="367.2" cy="286.2" r="3.05"/><circle cx="371.7" cy="290.8" r="3.05"/><circle cx="376.2" cy="295.3" r="3.05"/><circle cx="382.2" cy="301.6" r="3.05"/><circle cx="388.0" cy="308.3" r="3.05"/><circle cx="393.6" cy="314.0" r="3.05"/><circle cx="399.0" cy="319.7" r="3.05"/><circle cx="404.0" cy="324.8" r="3.05"/><circle cx="408.8" cy="330.8" r="3.05"/><circle cx="413.4" cy="335.1" r="3.05"/><circle cx="417.6" cy="340.2" r="3.05"/><circle cx="421.8" cy="345.8" r="3.05"/><circle cx="426.0" cy="350.7" r="3.05"/><circle cx="430.2" cy="355.4" r="3.05"/><circle cx="434.4" cy="360.0" r="3.05"/><circle cx="438.6" cy="365.6" r="3.05"/><circle cx="442.8" cy="370.7" r="3.05"/><circle cx="447.0" cy="376.6" r="3.05"/><circle cx="451.2" cy="382.6" r="3.05"/><circle cx="455.4" cy="387.3" r="3.05"/><circle cx="459.7" cy="392.4" r="3.05"/><circle cx="463.9" cy="397.7" r="3.05"/><circle cx="468.1" cy="403.5" r="3.05"/><circle cx="472.3" cy="408.9" r="3.05"/><circle cx="476.5" cy="413.8" r="3.05"/><circle cx="480.7" cy="419.8" r="3.05"/><circle cx="484.9" cy="424.6" r="3.05"/><circle cx="489.1" cy="431.0" r="3.05"/><circle cx="493.3" cy="436.3" r="3.05"/><circle cx="497.5" cy="441.7" r="3.05"/><circle cx="501.8" cy="446.4" r="3.05"/><circle cx="506.0" cy="452.3" r="3.05"/><circle cx="510.2" cy="457.6" r="3.05"/><circle cx="514.4" cy="463.1" r="3.05"/><circle cx="518.6" cy="468.8" r="3.05"/><circle cx="522.9" cy="474.0" r="3.05"/><circle cx="527.1" cy="479.6" r="3.05"/><circle cx="531.3" cy="486.5" r="3.05"/><circle cx="527.5" cy="488.4" r="3.05"/><circle cx="531.8" cy="494.7" r="3.05"/><circle cx="536.1" cy="499.8" r="3.05"/><circle cx="540.4" cy="506.1" r="3.05"/><circle cx="544.7" cy="512.5" r="3.05"/><circle cx="549.0" cy="518.5" r="3.05"/><circle cx="553.3" cy="524.2" r="3.05"/><circle cx="557.6" cy="530.6" r="3.05"/><circle cx="561.9" cy="536.2" r="3.05"/><circle cx="566.2" cy="541.5" r="3.05"/><circle cx="570.5" cy="547.5" r="3.05"/><circle cx="574.8" cy="553.9" r="3.05"/><circle cx="579.1" cy="559.7" r="3.05"/><circle cx="583.4" cy="564.8" r="3.05"/><circle cx="587.7" cy="571.8" r="3.05"/><circle cx="592.0" cy="577.5" r="3.05"/><circle cx="596.3" cy="583.7" r="3.05"/><circle cx="600.6" cy="589.1" r="3.05"/><circle cx="604.9" cy="594.9" r="3.05"/><circle cx="609.2" cy="600.3" r="3.05"/><circle cx="613.5" cy="607.1" r="3.05"/><circle cx="617.8" cy="611.5" r="3.05"/><circle cx="622.1" cy="617.4" r="3.05"/><circle cx="626.4" cy="621.8" r="3.05"/><circle cx="630.7" cy="627.2" r="3.05"/><circle cx="635.0" cy="631.7" r="3.05"/><circle cx="639.3" cy="637.3" r="3.05"/><circle cx="643.6" cy="639.6" r="3.05"/><circle cx="647.9" cy="644.9" r="3.05"/><circle cx="652.2" cy="657.6" r="3.05"/><circle cx="656.5" cy="640.4" r="3.05"/><circle cx="660.8" cy="667.2" r="3.05"/><circle cx="665.1" cy="673.7" r="3.05"/><circle cx="669.4" cy="677.7" r="3.05"/><circle cx="678.0" cy="672.0" r="3.05"/><circle cx="682.3" cy="655.0" r="3.05"/><circle cx="686.6" cy="643.5" r="3.05"/>
</g>
<g fill="rgb(0,0,222)">
<circle cx="172.2" cy="179.8" r="3.05"/><circle cx="181.0" cy="183.7" r="3.05"/><circle cx="188.7" cy="185.3" r="3.05"/><circle cx="195.7" cy="186.3" r="3.05"/><circle cx="202.0" cy="188.8" r="3.05"/><circle cx="207.5" cy="190.5" r="3.05"/><circle cx="214.2" cy="192.0" r="3.05"/><circle cx="220.5" cy="193.2" r="3.05"/><circle cx="225.6" cy="193.9" r="3.05"/><circle cx="231.6" cy="194.9" r="3.05"/><circle cx="237.5" cy="196.7" r="3.05"/><circle cx="243.7" cy="197.9" r="3.05"/><circle cx="250.4" cy="199.5" r="3.05"/><circle cx="256.4" cy="202.0" r="3.05"/><circle cx="261.6" cy="203.5" r="3.05"/><circle cx="266.9" cy="205.5" r="3.05"/><circle cx="272.1" cy="207.0" r="3.05"/><circle cx="277.2" cy="209.2" r="3.05"/><circle cx="282.2" cy="211.3" r="3.05"/><circle cx="287.2" cy="213.8" r="3.05"/><circle cx="292.2" cy="216.8" r="3.05"/><circle cx="297.1" cy="219.3" r="3.05"/><circle cx="301.9" cy="222.7" r="3.05"/><circle cx="306.7" cy="225.9" r="3.05"/><circle cx="311.5" cy="230.0" r="3.05"/><circle cx="316.2" cy="232.4" r="3.05"/><circle cx="321.0" cy="237.0" r="3.05"/><circle cx="325.7" cy="240.6" r="3.05"/><circle cx="330.4" cy="244.6" r="3.05"/><circle cx="335.0" cy="248.2" r="3.05"/><circle cx="339.7" cy="252.7" r="3.05"/><circle cx="344.3" cy="257.3" r="3.05"/><circle cx="348.9" cy="261.5" r="3.05"/><circle cx="353.5" cy="266.1" r="3.05"/><circle cx="358.1" cy="270.6" r="3.05"/><circle cx="362.7" cy="275.8" r="3.05"/><circle cx="367.2" cy="280.2" r="3.05"/><circle cx="371.7" cy="284.5" r="3.05"/><circle cx="376.2" cy="289.9" r="3.05"/><circle cx="382.2" cy="296.1" r="3.05"/><circle cx="388.0" cy="302.4" r="3.05"/><circle cx="393.6" cy="309.7" r="3.05"/><circle cx="399.0" cy="316.5" r="3.05"/><circle cx="404.0" cy="322.0" r="3.05"/><circle cx="408.8" cy="327.2" r="3.05"/><circle cx="413.4" cy="332.6" r="3.05"/><circle cx="417.6" cy="338.4" r="3.05"/><circle cx="421.8" cy="343.1" r="3.05"/><circle cx="426.0" cy="348.1" r="3.05"/><circle cx="430.2" cy="353.2" r="3.05"/><circle cx="434.4" cy="358.4" r="3.05"/><circle cx="438.6" cy="364.0" r="3.05"/><circle cx="442.8" cy="369.2" r="3.05"/><circle cx="447.0" cy="374.5" r="3.05"/><circle cx="451.2" cy="379.6" r="3.05"/><circle cx="455.4" cy="385.7" r="3.05"/><circle cx="459.7" cy="390.7" r="3.05"/><circle cx="463.9" cy="396.9" r="3.05"/><circle cx="468.1" cy="401.4" r="3.05"/><circle cx="472.3" cy="407.3" r="3.05"/><circle cx="476.5" cy="412.8" r="3.05"/><circle cx="480.7" cy="417.6" r="3.05"/><circle cx="484.9" cy="424.3" r="3.05"/><circle cx="489.1" cy="429.6" r="3.05"/><circle cx="493.3" cy="434.2" r="3.05"/><circle cx="497.5" cy="440.2" r="3.05"/><circle cx="501.8" cy="445.4" r="3.05"/><circle cx="506.0" cy="449.5" r="3.05"/><circle cx="510.2" cy="456.5" r="3.05"/><circle cx="514.4" cy="462.0" r="3.05"/><circle cx="518.6" cy="467.7" r="3.05"/><circle cx="522.9" cy="472.8" r="3.05"/><circle cx="527.1" cy="478.9" r="3.05"/><circle cx="531.3" cy="484.7" r="3.05"/><circle cx="527.5" cy="489.2" r="3.05"/><circle cx="531.8" cy="495.1" r="3.05"/><circle cx="536.1" cy="501.7" r="3.05"/><circle cx="540.4" cy="507.0" r="3.05"/><circle cx="544.7" cy="513.1" r="3.05"/><circle cx="549.0" cy="518.6" r="3.05"/><circle cx="553.3" cy="525.7" r="3.05"/><circle cx="557.6" cy="531.4" r="3.05"/><circle cx="561.9" cy="537.3" r="3.05"/><circle cx="566.2" cy="543.1" r="3.05"/><circle cx="570.5" cy="548.7" r="3.05"/><circle cx="574.8" cy="554.6" r="3.05"/><circle cx="579.1" cy="560.4" r="3.05"/><circle cx="583.4" cy="566.3" r="3.05"/><circle cx="587.7" cy="572.3" r="3.05"/><circle cx="592.0" cy="578.8" r="3.05"/><circle cx="596.3" cy="584.5" r="3.05"/><circle cx="600.6" cy="590.1" r="3.05"/><circle cx="604.9" cy="595.5" r="3.05"/><circle cx="609.2" cy="600.7" r="3.05"/><circle cx="613.5" cy="606.4" r="3.05"/><circle cx="617.8" cy="610.8" r="3.05"/><circle cx="622.1" cy="615.1" r="3.05"/><circle cx="626.4" cy="619.2" r="3.05"/><circle cx="630.7" cy="623.1" r="3.05"/><circle cx="635.0" cy="627.7" r="3.05"/><circle cx="639.3" cy="632.3" r="3.05"/><circle cx="643.6" cy="637.4" r="3.05"/><circle cx="647.9" cy="642.0" r="3.05"/><circle cx="652.2" cy="630.2" r="3.05"/><circle cx="656.5" cy="658.2" r="3.05"/><circle cx="660.8" cy="660.9" r="3.05"/><circle cx="665.1" cy="666.1" r="3.05"/><circle cx="669.4" cy="650.7" r="3.05"/><circle cx="673.7" cy="654.4" r="3.05"/><circle cx="678.0" cy="682.3" r="3.05"/><circle cx="682.3" cy="641.5" r="3.05"/><circle cx="686.6" cy="616.9" r="3.05"/>
</g>
<g fill="rgb(0,0,245)">
<circle cx="172.2" cy="132.3" r="3.05"/><circle cx="181.0" cy="136.6" r="3.05"/><circle cx="188.7" cy="139.5" r="3.05"/><circle cx="195.7" cy="141.0" r="3.05"/><circle cx="202.0" cy="144.0" r="3.05"/><circle cx="207.5" cy="145.0" r="3.05"/><circle cx="214.2" cy="148.7" r="3.05"/><circle cx="220.5" cy="152.1" r="3.05"/><circle cx="225.6" cy="153.0" r="3.05"/><circle cx="231.6" cy="155.3" r="3.05"/><circle cx="237.5" cy="159.1" r="3.05"/><circle cx="243.7" cy="163.3" r="3.05"/><circle cx="250.4" cy="167.0" r="3.05"/><circle cx="256.4" cy="170.0" r="3.05"/><circle cx="261.6" cy="172.5" r="3.05"/><circle cx="266.9" cy="176.0" r="3.05"/><circle cx="272.1" cy="179.3" r="3.05"/><circle cx="277.2" cy="182.3" r="3.05"/><circle cx="282.2" cy="186.3" r="3.05"/><circle cx="287.2" cy="189.9" r="3.05"/><circle cx="292.2" cy="194.6" r="3.05"/><circle cx="297.1" cy="198.7" r="3.05"/><circle cx="301.9" cy="203.1" r="3.05"/><circle cx="306.7" cy="207.6" r="3.05"/><circle cx="311.5" cy="212.7" r="3.05"/><circle cx="316.2" cy="217.2" r="3.05"/><circle cx="321.0" cy="222.7" r="3.05"/><circle cx="325.7" cy="228.5" r="3.05"/><circle cx="330.4" cy="233.1" r="3.05"/><circle cx="335.0" cy="239.1" r="3.05"/><circle cx="339.7" cy="243.8" r="3.05"/><circle cx="344.3" cy="249.9" r="3.05"/><circle cx="348.9" cy="254.9" r="3.05"/><circle cx="353.5" cy="260.9" r="3.05"/><circle cx="358.1" cy="266.4" r="3.05"/><circle cx="362.7" cy="271.5" r="3.05"/><circle cx="367.2" cy="278.0" r="3.05"/><circle cx="371.7" cy="283.8" r="3.05"/><circle cx="376.2" cy="289.1" r="3.05"/><circle cx="382.2" cy="296.6" r="3.05"/><circle cx="388.0" cy="304.1" r="3.05"/><circle cx="393.6" cy="311.1" r="3.05"/><circle cx="399.0" cy="318.6" r="3.05"/><circle cx="404.0" cy="324.5" r="3.05"/><circle cx="408.8" cy="330.6" r="3.05"/><circle cx="413.4" cy="335.9" r="3.05"/><circle cx="417.6" cy="341.1" r="3.05"/><circle cx="421.8" cy="345.9" r="3.05"/><circle cx="426.0" cy="351.8" r="3.05"/><circle cx="430.2" cy="356.2" r="3.05"/><circle cx="434.4" cy="361.6" r="3.05"/><circle cx="438.6" cy="366.3" r="3.05"/><circle cx="442.8" cy="371.1" r="3.05"/><circle cx="447.0" cy="376.4" r="3.05"/><circle cx="451.2" cy="381.4" r="3.05"/><circle cx="455.4" cy="386.8" r="3.05"/><circle cx="459.7" cy="391.8" r="3.05"/><circle cx="463.9" cy="396.9" r="3.05"/><circle cx="468.1" cy="401.6" r="3.05"/><circle cx="472.3" cy="406.9" r="3.05"/><circle cx="476.5" cy="413.0" r="3.05"/><circle cx="480.7" cy="417.2" r="3.05"/><circle cx="484.9" cy="422.2" r="3.05"/><circle cx="489.1" cy="428.0" r="3.05"/><circle cx="493.3" cy="433.8" r="3.05"/><circle cx="497.5" cy="437.9" r="3.05"/><circle cx="501.8" cy="443.8" r="3.05"/><circle cx="506.0" cy="449.1" r="3.05"/><circle cx="510.2" cy="454.2" r="3.05"/><circle cx="514.4" cy="461.0" r="3.05"/><circle cx="518.6" cy="466.3" r="3.05"/><circle cx="522.9" cy="472.1" r="3.05"/><circle cx="527.1" cy="477.3" r="3.05"/><circle cx="531.3" cy="483.7" r="3.05"/><circle cx="527.5" cy="490.1" r="3.05"/><circle cx="531.8" cy="495.9" r="3.05"/><circle cx="536.1" cy="501.9" r="3.05"/><circle cx="540.4" cy="508.9" r="3.05"/><circle cx="544.7" cy="514.3" r="3.05"/><circle cx="549.0" cy="520.5" r="3.05"/><circle cx="553.3" cy="526.4" r="3.05"/><circle cx="557.6" cy="532.2" r="3.05"/><circle cx="561.9" cy="538.1" r="3.05"/><circle cx="566.2" cy="544.4" r="3.05"/><circle cx="570.5" cy="550.0" r="3.05"/><circle cx="574.8" cy="555.9" r="3.05"/><circle cx="579.1" cy="561.9" r="3.05"/><circle cx="583.4" cy="568.2" r="3.05"/><circle cx="587.7" cy="574.0" r="3.05"/><circle cx="592.0" cy="579.9" r="3.05"/><circle cx="596.3" cy="585.6" r="3.05"/><circle cx="600.6" cy="591.2" r="3.05"/><circle cx="604.9" cy="597.7" r="3.05"/><circle cx="609.2" cy="603.2" r="3.05"/><circle cx="613.5" cy="608.1" r="3.05"/><circle cx="617.8" cy="613.5" r="3.05"/><circle cx="622.1" cy="618.5" r="3.05"/><circle cx="626.4" cy="623.3" r="3.05"/><circle cx="630.7" cy="628.0" r="3.05"/><circle cx="635.0" cy="632.2" r="3.05"/><circle cx="639.3" cy="637.7" r="3.05"/><circle cx="643.6" cy="645.9" r="3.05"/><circle cx="647.9" cy="646.0" r="3.05"/><circle cx="652.2" cy="646.1" r="3.05"/><circle cx="656.5" cy="636.3" r="3.05"/><circle cx="660.8" cy="669.2" r="3.05"/><circle cx="665.1" cy="661.4" r="3.05"/><circle cx="669.4" cy="673.0" r="3.05"/><circle cx="673.7" cy="644.5" r="3.05"/><circle cx="682.3" cy="682.1" r="3.05"/><circle cx="686.6" cy="612.8" r="3.05"/>
</g>
<g fill="rgb(0,0,255)">
<circle cx="172.2" cy="75.1" r="3.05"/><circle cx="181.0" cy="82.1" r="3.05"/><circle cx="188.7" cy="87.2" r="3.05"/><circle cx="195.7" cy="92.4" r="3.05"/><circle cx="202.0" cy="97.2" r="3.05"/><circle cx="207.5" cy="101.2" r="3.05"/><circle cx="214.2" cy="105.8" r="3.05"/><circle cx="220.5" cy="111.5" r="3.05"/><circle cx="225.6" cy="116.3" r="3.05"/><circle cx="231.6" cy="119.4" r="3.05"/><circle cx="237.5" cy="123.7" r="3.05"/><circle cx="243.7" cy="129.0" r="3.05"/><circle cx="250.4" cy="134.8" r="3.05"/><circle cx="256.4" cy="139.7" r="3.05"/><circle cx="261.6" cy="144.1" r="3.05"/><circle cx="266.9" cy="148.5" r="3.05"/><circle cx="272.1" cy="153.4" r="3.05"/><circle cx="277.2" cy="158.1" r="3.05"/><circle cx="282.2" cy="163.5" r="3.05"/><circle cx="287.2" cy="169.2" r="3.05"/><circle cx="292.2" cy="174.2" r="3.05"/><circle cx="297.1" cy="179.9" r="3.05"/><circle cx="301.9" cy="186.0" r="3.05"/><circle cx="306.7" cy="191.9" r="3.05"/><circle cx="311.5" cy="198.0" r="3.05"/><circle cx="316.2" cy="204.0" r="3.05"/><circle cx="321.0" cy="210.7" r="3.05"/><circle cx="325.7" cy="217.2" r="3.05"/><circle cx="330.4" cy="222.8" r="3.05"/><circle cx="335.0" cy="229.2" r="3.05"/><circle cx="339.7" cy="234.9" r="3.05"/><circle cx="344.3" cy="241.3" r="3.05"/><circle cx="348.9" cy="247.3" r="3.05"/><circle cx="353.5" cy="254.0" r="3.05"/><circle cx="358.1" cy="259.9" r="3.05"/><circle cx="362.7" cy="266.5" r="3.05"/><circle cx="367.2" cy="272.7" r="3.05"/><circle cx="371.7" cy="278.8" r="3.05"/><circle cx="376.2" cy="284.2" r="3.05"/><circle cx="382.2" cy="292.9" r="3.05"/><circle cx="388.0" cy="301.0" r="3.05"/><circle cx="393.6" cy="308.7" r="3.05"/><circle cx="399.0" cy="315.4" r="3.05"/><circle cx="404.0" cy="322.5" r="3.05"/><circle cx="408.8" cy="328.5" r="3.05"/><circle cx="413.4" cy="334.2" r="3.05"/><circle cx="417.6" cy="340.1" r="3.05"/><circle cx="421.8" cy="344.6" r="3.05"/><circle cx="426.0" cy="350.0" r="3.05"/><circle cx="430.2" cy="355.3" r="3.05"/><circle cx="434.4" cy="359.8" r="3.05"/><circle cx="438.6" cy="365.0" r="3.05"/><circle cx="442.8" cy="370.2" r="3.05"/><circle cx="447.0" cy="375.3" r="3.05"/><circle cx="451.2" cy="380.0" r="3.05"/><circle cx="455.4" cy="385.6" r="3.05"/><circle cx="459.7" cy="391.2" r="3.05"/><circle cx="463.9" cy="395.2" r="3.05"/><circle cx="468.1" cy="401.2" r="3.05"/><circle cx="472.3" cy="406.0" r="3.05"/><circle cx="476.5" cy="410.7" r="3.05"/><circle cx="480.7" cy="417.0" r="3.05"/><circle cx="484.9" cy="421.6" r="3.05"/><circle cx="489.1" cy="426.0" r="3.05"/><circle cx="493.3" cy="431.8" r="3.05"/><circle cx="497.5" cy="437.4" r="3.05"/><circle cx="501.8" cy="442.5" r="3.05"/><circle cx="506.0" cy="448.4" r="3.05"/><circle cx="510.2" cy="453.7" r="3.05"/><circle cx="514.4" cy="459.7" r="3.05"/><circle cx="518.6" cy="465.7" r="3.05"/><circle cx="522.9" cy="470.4" r="3.05"/><circle cx="527.1" cy="476.5" r="3.05"/><circle cx="531.3" cy="481.9" r="3.05"/><circle cx="527.5" cy="491.9" r="3.05"/><circle cx="531.8" cy="498.3" r="3.05"/><circle cx="536.1" cy="504.5" r="3.05"/><circle cx="540.4" cy="511.0" r="3.05"/><circle cx="544.7" cy="517.2" r="3.05"/><circle cx="549.0" cy="522.4" r="3.05"/><circle cx="553.3" cy="528.6" r="3.05"/><circle cx="557.6" cy="535.1" r="3.05"/><circle cx="561.9" cy="540.1" r="3.05"/><circle cx="566.2" cy="546.6" r="3.05"/><circle cx="570.5" cy="552.6" r="3.05"/><circle cx="574.8" cy="559.1" r="3.05"/><circle cx="579.1" cy="564.8" r="3.05"/><circle cx="583.4" cy="570.4" r="3.05"/><circle cx="587.7" cy="576.4" r="3.05"/><circle cx="592.0" cy="582.5" r="3.05"/><circle cx="596.3" cy="589.2" r="3.05"/><circle cx="600.6" cy="594.5" r="3.05"/><circle cx="604.9" cy="600.4" r="3.05"/><circle cx="609.2" cy="606.3" r="3.05"/><circle cx="613.5" cy="611.7" r="3.05"/><circle cx="617.8" cy="617.2" r="3.05"/><circle cx="622.1" cy="622.1" r="3.05"/><circle cx="626.4" cy="627.7" r="3.05"/><circle cx="630.7" cy="632.7" r="3.05"/><circle cx="635.0" cy="638.4" r="3.05"/><circle cx="639.3" cy="643.4" r="3.05"/><circle cx="643.6" cy="648.8" r="3.05"/><circle cx="647.9" cy="655.5" r="3.05"/><circle cx="652.2" cy="659.7" r="3.05"/><circle cx="656.5" cy="672.1" r="3.05"/><circle cx="660.8" cy="681.6" r="3.05"/><circle cx="665.1" cy="677.9" r="3.05"/><circle cx="669.4" cy="679.9" r="3.05"/><circle cx="686.6" cy="671.0" r="3.05"/>
</g>
</g>
<g fill="none" stroke-width="1.5" stroke-linejoin="round">
<path d="M172.3,363.1 L174.3,363.2 L176.3,363.2 L178.3,363.2 L180.3,363.2 L182.3,363.2 L184.3,363.2 L186.3,363.3 L188.3,363.3 L190.3,363.3 L192.3,363.3 L194.3,363.3 L196.3,363.4 L198.3,363.4 L200.3,363.4 L202.3,363.4 L204.3,363.5 L206.3,363.5 L208.3,363.5 L210.3,363.5 L212.3,363.6 L214.3,363.6 L216.3,363.6 L218.3,363.7 L220.3,363.7 L222.3,363.8 L224.3,363.8 L226.3,363.8 L228.3,363.9 L230.3,363.9 L232.3,364.0 L234.3,364.0 L236.3,364.1 L238.3,364.1 L240.3,364.2 L242.3,364.2 L244.3,364.3 L246.3,364.4 L248.3,364.4 L250.3,364.5 L252.3,364.6 L254.3,364.6 L256.3,364.7 L258.3,364.8 L260.3,364.9 L262.3,364.9 L264.3,365.0 L266.3,365.1 L268.3,365.2 L270.3,365.3 L272.3,365.4 L274.3,365.5 L276.3,365.6 L278.3,365.7 L280.3,365.8 L282.3,365.9 L284.3,366.1 L286.3,366.2 L288.3,366.4 L290.3,366.5 L292.3,366.7 L294.3,366.8 L296.3,367.0 L298.3,367.2 L300.3,367.4 L302.3,367.5 L304.3,367.8 L306.3,368.0 L308.3,368.2 L310.3,368.4 L312.3,368.7 L314.3,368.9 L316.3,369.2 L318.3,369.5 L320.3,369.7 L322.3,370.0 L324.3,370.3 L326.3,370.7 L328.3,371.0 L330.3,371.3 L332.3,371.6 L334.3,372.0 L336.3,372.3 L338.3,372.7 L340.3,373.1 L342.3,373.5 L344.3,373.9 L346.3,374.3 L348.3,374.8 L350.3,375.2 L352.3,375.7 L354.3,376.2 L356.3,376.7 L358.3,377.2 L360.3,377.8 L362.3,378.3 L364.3,378.9 L366.3,379.5 L368.3,380.1 L370.3,380.7 L372.3,381.3 L374.3,382.0 L376.3,382.7 L378.3,383.4 L380.3,384.1 L382.3,384.8 L384.3,385.6 L386.3,386.3 L388.3,387.1 L390.3,388.0 L392.3,388.8 L394.3,389.6 L396.3,390.5 L398.3,391.4 L400.3,392.3 L402.3,393.3 L404.3,394.2 L406.3,395.1 L408.3,396.1 L410.3,397.0 L412.3,398.0 L414.3,399.0 L416.3,399.9 L418.3,400.9 L420.3,401.9 L422.3,402.9 L424.3,404.0 L426.3,405.0 L428.3,406.0 L430.3,407.1 L432.3,408.2 L434.3,409.3 L436.3,410.4 L438.3,411.5 L440.3,412.7 L442.3,413.8 L444.3,415.0 L446.3,416.3 L448.3,417.5 L450.3,418.8 L452.3,420.1 L454.3,421.4 L456.3,422.7 L458.3,424.0 L460.3,425.3 L462.3,426.7 L464.3,428.1 L466.3,429.4 L468.3,430.9 L470.3,432.3 L472.3,433.7 L474.3,435.2 L476.3,436.7 L478.3,438.2 L480.3,439.7 L482.3,441.3 L484.3,442.9 L486.3,444.5 L488.3,446.1 L490.3,447.8 L492.3,449.5 L494.3,451.3 L496.3,453.0 L498.3,454.8 L500.3,456.7 L502.3,458.4 L504.3,460.0 L506.3,462.1 L508.3,464.2 L510.3,466.2 L512.3,468.2 L514.3,470.2 L516.3,472.2 L518.3,474.3 L520.3,476.5 L522.3,478.7 L524.3,481.1 L526.3,483.7 L528.3,486.4 L530.3,489.2 L532.3,492.0 L534.3,494.7 L536.3,497.5 L538.3,500.3 L540.3,503.1 L542.3,505.8 L544.3,508.6 L546.3,511.3 L548.3,514.1 L550.3,516.8 L552.3,519.5 L554.3,522.3 L556.3,525.0 L558.3,527.7 L560.3,530.4 L562.3,533.1 L564.3,535.8 L566.3,538.5 L568.3,541.2 L570.3,543.9 L572.3,546.6 L574.3,549.3 L576.3,552.0 L578.3,554.7 L580.3,557.4 L582.3,560.1 L584.3,562.8 L586.3,565.5 L588.3,568.3 L590.3,571.0 L592.3,573.7 L594.3,576.5 L596.3,579.3 L598.3,582.0 L600.3,584.8 L602.3,587.5 L604.3,590.3 L606.3,593.1 L608.3,595.8 L610.3,598.6 L612.3,601.4 L614.3,604.2 L616.3,606.9 L618.3,609.7 L620.3,612.5 L622.3,615.3 L624.3,618.0 L626.3,620.8 L628.3,623.6 L630.3,626.4 L632.3,629.2 L634.3,632.0 L636.3,634.7 L638.3,637.5 L640.3,640.3 L642.3,643.1 L644.3,645.9 L646.3,648.7 L648.3,651.5 L650.3,654.3 L652.3,657.1 L654.3,659.9 L656.3,662.7 L658.3,665.5 L660.3,668.2 L662.3,671.0 L664.3,673.8 L666.3,676.6 L668.3,679.4 L670.3,682.2 L672.3,685.0 L674.3,687.8 L675.6,689.6" stroke="rgb(0,0,0)"/>
<path d="M172.3,362.2 L174.3,362.2 L176.3,362.2 L178.3,362.2 L180.3,362.2 L182.3,362.2 L184.3,362.2 L186.3,362.3 L188.3,362.3 L190.3,362.3 L192.3,362.3 L194.3,362.3 L196.3,362.3 L198.3,362.4 L200.3,362.4 L202.3,362.4 L204.3,362.4 L206.3,362.5 L208.3,362.5 L210.3,362.5 L212.3,362.6 L214.3,362.6 L216.3,362.6 L218.3,362.6 L220.3,362.7 L222.3,362.7 L224.3,362.8 L226.3,362.8 L228.3,362.8 L230.3,362.9 L232.3,362.9 L234.3,363.0 L236.3,363.0 L238.3,363.1 L240.3,363.1 L242.3,363.2 L244.3,363.2 L246.3,363.3 L248.3,363.3 L250.3,363.4 L252.3,363.4 L254.3,363.5 L256.3,363.6 L258.3,363.6 L260.3,363.7 L262.3,363.8 L264.3,363.9 L266.3,363.9 L268.3,364.0 L270.3,364.1 L272.3,364.2 L274.3,364.3 L276.3,364.4 L278.3,364.5 L280.3,364.6 L282.3,364.7 L284.3,364.8 L286.3,364.9 L288.3,365.1 L290.3,365.2 L292.3,365.4 L294.3,365.5 L296.3,365.7 L298.3,365.8 L300.3,366.0 L302.3,366.2 L304.3,366.3 L306.3,366.5 L308.3,366.7 L310.3,367.0 L312.3,367.2 L314.3,367.4 L316.3,367.7 L318.3,367.9 L320.3,368.2 L322.3,368.4 L324.3,368.7 L326.3,369.0 L328.3,369.3 L330.3,369.6 L332.3,369.9 L334.3,370.2 L336.3,370.5 L338.3,370.9 L340.3,371.2 L342.3,371.6 L344.3,372.0 L346.3,372.4 L348.3,372.8 L350.3,373.2 L352.3,373.6 L354.3,374.1 L356.3,374.5 L358.3,375.0 L360.3,375.5 L362.3,376.0 L364.3,376.6 L366.3,377.1 L368.3,377.7 L370.3,378.2 L372.3,378.8 L374.3,379.4 L376.3,380.1 L378.3,380.7 L380.3,381.4 L382.3,382.1 L384.3,382.8 L386.3,383.5 L388.3,384.2 L390.3,385.0 L392.3,385.8 L394.3,386.6 L396.3,387.4 L398.3,388.2 L400.3,389.1 L402.3,389.9 L404.3,390.8 L406.3,391.7 L408.3,392.6 L410.3,393.5 L412.3,394.5 L414.3,395.4 L416.3,396.4 L418.3,397.3 L420.3,398.3 L422.3,399.3 L424.3,400.4 L426.3,401.4 L428.3,402.5 L430.3,403.5 L432.3,404.6 L434.3,405.8 L436.3,406.9 L438.3,408.1 L440.3,409.3 L442.3,410.5 L444.3,411.8 L446.3,413.0 L448.3,414.4 L450.3,415.7 L452.3,417.0 L454.3,418.4 L456.3,419.8 L458.3,421.2 L460.3,422.6 L462.3,424.0 L464.3,425.5 L466.3,427.0 L468.3,428.5 L470.3,430.0 L472.3,431.5 L474.3,433.1 L476.3,434.6 L478.3,436.2 L480.3,437.9 L482.3,439.5 L484.3,441.2 L486.3,442.8 L488.3,444.5 L490.3,446.3 L492.3,448.0 L494.3,449.8 L496.3,451.6 L498.3,453.5 L500.3,455.4 L502.3,457.1 L504.3,458.7 L506.3,460.8 L508.3,462.9 L510.3,464.9 L512.3,466.9 L514.3,468.9 L516.3,470.9 L518.3,473.0 L520.3,475.1 L522.3,477.4 L524.3,479.8 L526.3,482.3 L528.3,485.0 L530.3,487.8 L532.3,490.5 L534.3,493.3 L536.3,496.1 L538.3,498.8 L540.3,501.6 L542.3,504.3 L544.3,507.1 L546.3,509.8 L548.3,512.6 L550.3,515.3 L552.3,518.0 L554.3,520.7 L556.3,523.4 L558.3,526.1 L560.3,528.8 L562.3,531.5 L564.3,534.2 L566.3,536.9 L568.3,539.5 L570.3,542.2 L572.3,544.9 L574.3,547.6 L576.3,550.3 L578.3,553.0 L580.3,555.7 L582.3,558.4 L584.3,561.1 L586.3,563.8 L588.3,566.5 L590.3,569.2 L592.3,571.9 L594.3,574.7 L596.3,577.4 L598.3,580.2 L600.3,582.9 L602.3,585.7 L604.3,588.4 L606.3,591.2 L608.3,593.9 L610.3,596.7 L612.3,599.4 L614.3,602.2 L616.3,605.0 L618.3,607.7 L620.3,610.5 L622.3,613.3 L624.3,616.0 L626.3,618.8 L628.3,621.6 L630.3,624.3 L632.3,627.1 L634.3,629.9 L636.3,632.7 L638.3,635.4 L640.3,638.2 L642.3,641.0 L644.3,643.8 L646.3,646.5 L648.3,649.3 L650.3,652.1 L652.3,654.9 L654.3,657.7 L656.3,660.4 L658.3,663.2 L660.3,666.0 L662.3,668.8 L664.3,671.6 L666.3,674.3 L668.3,677.1 L670.3,679.9 L672.3,682.7 L674.3,685.5 L676.3,688.3 L677.3,689.6" stroke="rgb(0,0,14)"/>
<path d="M172.3,339.0 L174.3,339.0 L176.3,339.1 L178.3,339.1 L180.3,339.1 L182.3,339.1 L184.3,339.1 L186.3,339.2 L188.3,339.2 L190.3,339.2 L192.3,339.2 L194.3,339.2 L196.3,339.3 L198.3,339.3 L200.3,339.3 L202.3,339.4 L204.3,339.4 L206.3,339.4 L208.3,339.4 L210.3,339.5 L212.3,339.5 L214.3,339.6 L216.3,339.6 L218.3,339.6 L220.3,339.7 L222.3,339.7 L224.3,339.8 L226.3,339.8 L228.3,339.9 L230.3,339.9 L232.3,340.0 L234.3,340.0 L236.3,340.1 L238.3,340.2 L240.3,340.2 L242.3,340.3 L244.3,340.4 L246.3,340.4 L248.3,340.5 L250.3,340.6 L252.3,340.6 L254.3,340.7 L256.3,340.8 L258.3,340.9 L260.3,341.0 L262.3,341.1 L264.3,341.2 L266.3,341.3 L268.3,341.4 L270.3,341.5 L272.3,341.6 L274.3,341.7 L276.3,341.8 L278.3,341.9 L280.3,342.1 L282.3,342.2 L284.3,342.4 L286.3,342.5 L288.3,342.7 L290.3,342.8 L292.3,343.0 L294.3,343.2 L296.3,343.4 L298.3,343.6 L300.3,343.8 L302.3,344.0 L304.3,344.3 L306.3,344.5 L308.3,344.7 L310.3,345.0 L312.3,345.3 L314.3,345.6 L316.3,345.9 L318.3,346.2 L320.3,346.5 L322.3,346.8 L324.3,347.2 L326.3,347.5 L328.3,347.9 L330.3,348.3 L332.3,348.6 L334.3,349.0 L336.3,349.4 L338.3,349.8 L340.3,350.3 L342.3,350.7 L344.3,351.2 L346.3,351.7 L348.3,352.2 L350.3,352.7 L352.3,353.2 L354.3,353.7 L356.3,354.3 L358.3,354.9 L360.3,355.5 L362.3,356.1 L364.3,356.7 L366.3,357.4 L368.3,358.0 L370.3,358.7 L372.3,359.4 L374.3,360.2 L376.3,360.9 L378.3,361.7 L380.3,362.5 L382.3,363.3 L384.3,364.1 L386.3,365.0 L388.3,365.8 L390.3,366.7 L392.3,367.6 L394.3,368.6 L396.3,369.5 L398.3,370.5 L400.3,371.5 L402.3,372.5 L404.3,373.6 L406.3,374.6 L408.3,375.7 L410.3,376.8 L412.3,378.0 L414.3,379.1 L416.3,380.3 L418.3,381.5 L420.3,382.8 L422.3,384.0 L424.3,385.3 L426.3,386.6 L428.3,388.0 L430.3,389.4 L432.3,390.8 L434.3,392.3 L436.3,393.7 L438.3,395.3 L440.3,396.8 L442.3,398.4 L444.3,400.0 L446.3,401.7 L448.3,403.4 L450.3,405.1 L452.3,406.8 L454.3,408.6 L456.3,410.4 L458.3,412.2 L460.3,414.0 L462.3,415.9 L464.3,417.7 L466.3,419.6 L468.3,421.5 L470.3,423.4 L472.3,425.3 L474.3,427.2 L476.3,429.2 L478.3,431.1 L480.3,433.1 L482.3,435.1 L484.3,437.1 L486.3,439.1 L488.3,441.2 L490.3,443.2 L492.3,445.3 L494.3,447.3 L496.3,449.4 L498.3,451.5 L500.3,453.6 L502.3,455.5 L504.3,457.0 L506.3,458.7 L508.3,460.3 L510.3,461.7 L512.3,463.0 L514.3,464.2 L516.3,465.5 L518.3,466.9 L520.3,468.3 L522.3,470.0 L524.3,471.9 L526.3,474.1 L528.3,476.6 L530.3,479.3 L532.3,482.0 L534.3,484.7 L536.3,487.4 L538.3,490.0 L540.3,492.7 L542.3,495.4 L544.3,498.1 L546.3,500.7 L548.3,503.4 L550.3,506.0 L552.3,508.6 L554.3,511.3 L556.3,513.9 L558.3,516.5 L560.3,519.1 L562.3,521.7 L564.3,524.3 L566.3,526.9 L568.3,529.6 L570.3,532.2 L572.3,534.8 L574.3,537.4 L576.3,540.0 L578.3,542.6 L580.3,545.2 L582.3,547.8 L584.3,550.4 L586.3,553.1 L588.3,555.7 L590.3,558.3 L592.3,561.0 L594.3,563.7 L596.3,566.3 L598.3,569.0 L600.3,571.7 L602.3,574.3 L604.3,577.0 L606.3,579.7 L608.3,582.3 L610.3,585.0 L612.3,587.7 L614.3,590.4 L616.3,593.1 L618.3,595.7 L620.3,598.4 L622.3,601.1 L624.3,603.8 L626.3,606.5 L628.3,609.2 L630.3,611.9 L632.3,614.6 L634.3,617.3 L636.3,620.0 L638.3,622.6 L640.3,625.3 L642.3,628.0 L644.3,630.7 L646.3,633.4 L648.3,636.1 L650.3,638.8 L652.3,641.5 L654.3,644.2 L656.3,646.9 L658.3,649.6 L660.3,652.3 L662.3,655.0 L664.3,657.7 L666.3,660.4 L668.3,663.2 L670.3,665.9 L672.3,668.6 L674.3,671.3 L676.3,674.0 L678.3,676.7 L680.3,679.4 L682.3,682.1 L684.3,684.8 L686.3,687.5 L687.9,689.6" stroke="rgb(0,0,78)"/>
<path d="M172.3,316.2 L174.3,316.2 L176.3,316.2 L178.3,316.2 L180.3,316.3 L182.3,316.3 L184.3,316.3 L186.3,316.3 L188.3,316.4 L190.3,316.4 L192.3,316.4 L194.3,316.5 L196.3,316.5 L198.3,316.5 L200.3,316.6 L202.3,316.6 L204.3,316.6 L206.3,316.7 L208.3,316.7 L210.3,316.8 L212.3,316.8 L214.3,316.9 L216.3,316.9 L218.3,317.0 L220.3,317.0 L222.3,317.1 L224.3,317.1 L226.3,317.2 L228.3,317.3 L230.3,317.3 L232.3,317.4 L234.3,317.5 L236.3,317.5 L238.3,317.6 L240.3,317.7 L242.3,317.8 L244.3,317.8 L246.3,317.9 L248.3,318.0 L250.3,318.1 L252.3,318.2 L254.3,318.3 L256.3,318.4 L258.3,318.5 L260.3,318.6 L262.3,318.7 L264.3,318.9 L266.3,319.0 L268.3,319.1 L270.3,319.3 L272.3,319.4 L274.3,319.5 L276.3,319.7 L278.3,319.8 L280.3,320.0 L282.3,320.2 L284.3,320.4 L286.3,320.5 L288.3,320.8 L290.3,321.0 L292.3,321.2 L294.3,321.4 L296.3,321.7 L298.3,321.9 L300.3,322.2 L302.3,322.4 L304.3,322.7 L306.3,323.0 L308.3,323.3 L310.3,323.6 L312.3,324.0 L314.3,324.3 L316.3,324.7 L318.3,325.1 L320.3,325.5 L322.3,325.9 L324.3,326.3 L326.3,326.7 L328.3,327.2 L330.3,327.6 L332.3,328.1 L334.3,328.6 L336.3,329.1 L338.3,329.6 L340.3,330.1 L342.3,330.6 L344.3,331.2 L346.3,331.8 L348.3,332.4 L350.3,333.0 L352.3,333.6 L354.3,334.3 L356.3,334.9 L358.3,335.6 L360.3,336.4 L362.3,337.1 L364.3,337.8 L366.3,338.6 L368.3,339.4 L370.3,340.2 L372.3,341.1 L374.3,341.9 L376.3,342.8 L378.3,343.7 L380.3,344.7 L382.3,345.6 L384.3,346.6 L386.3,347.6 L388.3,348.6 L390.3,349.6 L392.3,350.7 L394.3,351.8 L396.3,352.9 L398.3,354.0 L400.3,355.2 L402.3,356.4 L404.3,357.6 L406.3,358.8 L408.3,360.1 L410.3,361.4 L412.3,362.8 L414.3,364.2 L416.3,365.6 L418.3,367.1 L420.3,368.6 L422.3,370.1 L424.3,371.7 L426.3,373.3 L428.3,375.0 L430.3,376.7 L432.3,378.4 L434.3,380.2 L436.3,382.0 L438.3,383.9 L440.3,385.8 L442.3,387.7 L444.3,389.7 L446.3,391.8 L448.3,393.8 L450.3,395.9 L452.3,398.1 L454.3,400.2 L456.3,402.4 L458.3,404.5 L460.3,406.7 L462.3,408.9 L464.3,411.1 L466.3,413.3 L468.3,415.6 L470.3,417.8 L472.3,420.1 L474.3,422.3 L476.3,424.6 L478.3,426.9 L480.3,429.1 L482.3,431.4 L484.3,433.7 L486.3,436.0 L488.3,438.3 L490.3,440.6 L492.3,442.8 L494.3,445.1 L496.3,447.4 L498.3,449.7 L500.3,452.0 L502.3,454.0 L504.3,455.9 L506.3,457.8 L508.3,459.7 L510.3,461.4 L512.3,463.1 L514.3,464.8 L516.3,466.4 L518.3,468.1 L520.3,470.0 L522.3,471.9 L524.3,474.0 L526.3,476.4 L528.3,479.0 L530.3,481.7 L532.3,484.4 L534.3,487.1 L536.3,489.9 L538.3,492.6 L540.3,495.3 L542.3,498.0 L544.3,500.6 L546.3,503.3 L548.3,506.0 L550.3,508.7 L552.3,511.3 L554.3,514.0 L556.3,516.6 L558.3,519.3 L560.3,521.9 L562.3,524.5 L564.3,527.1 L566.3,529.8 L568.3,532.4 L570.3,535.0 L572.3,537.7 L574.3,540.3 L576.3,542.9 L578.3,545.5 L580.3,548.2 L582.3,550.8 L584.3,553.5 L586.3,556.1 L588.3,558.8 L590.3,561.4 L592.3,564.1 L594.3,566.8 L596.3,569.5 L598.3,572.2 L600.3,574.9 L602.3,577.6 L604.3,580.3 L606.3,583.0 L608.3,585.7 L610.3,588.4 L612.3,591.1 L614.3,593.8 L616.3,596.5 L618.3,599.2 L620.3,601.9 L622.3,604.6 L624.3,607.3 L626.3,610.0 L628.3,612.7 L630.3,615.4 L632.3,618.1 L634.3,620.9 L636.3,623.6 L638.3,626.3 L640.3,629.0 L642.3,631.7 L644.3,634.5 L646.3,637.2 L648.3,639.9 L650.3,642.6 L652.3,645.3 L654.3,648.1 L656.3,650.8 L658.3,653.5 L660.3,656.2 L662.3,659.0 L664.3,661.7 L666.3,664.4 L668.3,667.1 L670.3,669.9 L672.3,672.6 L674.3,675.3 L676.3,678.1 L678.3,680.8 L680.3,683.5 L682.3,686.2 L684.3,689.0 L684.8,689.6" stroke="rgb(0,0,94)"/>
<path d="M172.3,282.9 L174.3,283.0 L176.3,283.0 L178.3,283.0 L180.3,283.1 L182.3,283.1 L184.3,283.1 L186.3,283.2 L188.3,283.2 L190.3,283.3 L192.3,283.3 L194.3,283.4 L196.3,283.4 L198.3,283.5 L200.3,283.5 L202.3,283.6 L204.3,283.6 L206.3,283.7 L208.3,283.8 L210.3,283.8 L212.3,283.9 L214.3,284.0 L216.3,284.1 L218.3,284.1 L220.3,284.2 L222.3,284.3 L224.3,284.4 L226.3,284.5 L228.3,284.6 L230.3,284.7 L232.3,284.8 L234.3,284.9 L236.3,285.0 L238.3,285.2 L240.3,285.3 L242.3,285.4 L244.3,285.5 L246.3,285.7 L248.3,285.8 L250.3,285.9 L252.3,286.1 L254.3,286.2 L256.3,286.4 L258.3,286.6 L260.3,286.7 L262.3,286.9 L264.3,287.1 L266.3,287.3 L268.3,287.5 L270.3,287.7 L272.3,287.9 L274.3,288.1 L276.3,288.4 L278.3,288.6 L280.3,288.9 L282.3,289.1 L284.3,289.4 L286.3,289.7 L288.3,290.0 L290.3,290.3 L292.3,290.6 L294.3,291.0 L296.3,291.4 L298.3,291.7 L300.3,292.1 L302.3,292.5 L304.3,292.9 L306.3,293.4 L308.3,293.9 L310.3,294.3 L312.3,294.9 L314.3,295.4 L316.3,295.9 L318.3,296.5 L320.3,297.1 L322.3,297.7 L324.3,298.3 L326.3,298.9 L328.3,299.5 L330.3,300.2 L332.3,300.9 L334.3,301.6 L336.3,302.3 L338.3,303.0 L340.3,303.7 L342.3,304.5 L344.3,305.3 L346.3,306.1 L348.3,307.0 L350.3,307.9 L352.3,308.7 L354.3,309.7 L356.3,310.6 L358.3,311.6 L360.3,312.6 L362.3,313.6 L364.3,314.6 L366.3,315.7 L368.3,316.8 L370.3,317.9 L372.3,319.0 L374.3,320.2 L376.3,321.4 L378.3,322.6 L380.3,323.8 L382.3,325.1 L384.3,326.4 L386.3,327.7 L388.3,329.0 L390.3,330.4 L392.3,331.7 L394.3,333.1 L396.3,334.6 L398.3,336.0 L400.3,337.5 L402.3,339.0 L404.3,340.5 L406.3,342.1 L408.3,343.7 L410.3,345.4 L412.3,347.1 L414.3,348.9 L416.3,350.7 L418.3,352.5 L420.3,354.4 L422.3,356.3 L424.3,358.3 L426.3,360.3 L428.3,362.3 L430.3,364.4 L432.3,366.6 L434.3,368.7 L436.3,371.0 L438.3,373.2 L440.3,375.5 L442.3,377.8 L444.3,380.2 L446.3,382.6 L448.3,385.1 L450.3,387.6 L452.3,390.1 L454.3,392.6 L456.3,395.1 L458.3,397.6 L460.3,400.1 L462.3,402.7 L464.3,405.2 L466.3,407.7 L468.3,410.3 L470.3,412.8 L472.3,415.4 L474.3,417.9 L476.3,420.4 L478.3,423.0 L480.3,425.5 L482.3,428.0 L484.3,430.5 L486.3,433.0 L488.3,435.5 L490.3,438.0 L492.3,440.5 L494.3,443.0 L496.3,445.4 L498.3,447.9 L500.3,450.3 L502.3,452.6 L504.3,454.8 L506.3,457.0 L508.3,459.1 L510.3,461.2 L512.3,463.2 L514.3,465.2 L516.3,467.3 L518.3,469.4 L520.3,471.5 L522.3,473.8 L524.3,476.1 L526.3,478.6 L528.3,481.3 L530.3,484.1 L532.3,486.8 L534.3,489.5 L536.3,492.2 L538.3,495.0 L540.3,497.7 L542.3,500.4 L544.3,503.1 L546.3,505.8 L548.3,508.5 L550.3,511.2 L552.3,513.9 L554.3,516.6 L556.3,519.2 L558.3,521.9 L560.3,524.5 L562.3,527.2 L564.3,529.9 L566.3,532.5 L568.3,535.1 L570.3,537.8 L572.3,540.4 L574.3,543.1 L576.3,545.7 L578.3,548.4 L580.3,551.1 L582.3,553.7 L584.3,556.4 L586.3,559.1 L588.3,561.7 L590.3,564.4 L592.3,567.1 L594.3,569.8 L596.3,572.5 L598.3,575.3 L600.3,578.0 L602.3,580.7 L604.3,583.4 L606.3,586.1 L608.3,588.8 L610.3,591.6 L612.3,594.3 L614.3,597.0 L616.3,599.7 L618.3,602.5 L620.3,605.2 L622.3,607.9 L624.3,610.7 L626.3,613.4 L628.3,616.1 L630.3,618.9 L632.3,621.6 L634.3,624.3 L636.3,627.1 L638.3,629.8 L640.3,632.5 L642.3,635.3 L644.3,638.0 L646.3,640.8 L648.3,643.5 L650.3,646.3 L652.3,649.0 L654.3,651.8 L656.3,654.5 L658.3,657.2 L660.3,660.0 L662.3,662.7 L664.3,665.5 L666.3,668.2 L668.3,671.0 L670.3,673.7 L672.3,676.5 L674.3,679.2 L676.3,682.0 L678.3,684.7 L680.3,687.5 L681.8,689.6" stroke="rgb(0,0,108)"/>
<path d="M172.3,254.1 L174.3,254.2 L176.3,254.2 L178.3,254.3 L180.3,254.3 L182.3,254.4 L184.3,254.4 L186.3,254.5 L188.3,254.6 L190.3,254.6 L192.3,254.7 L194.3,254.8 L196.3,254.9 L198.3,255.0 L200.3,255.1 L202.3,255.2 L204.3,255.3 L206.3,255.4 L208.3,255.5 L210.3,255.6 L212.3,255.7 L214.3,255.8 L216.3,256.0 L218.3,256.1 L220.3,256.2 L222.3,256.4 L224.3,256.5 L226.3,256.7 L228.3,256.8 L230.3,257.0 L232.3,257.2 L234.3,257.4 L236.3,257.5 L238.3,257.7 L240.3,257.9 L242.3,258.1 L244.3,258.3 L246.3,258.5 L248.3,258.8 L250.3,259.0 L252.3,259.2 L254.3,259.5 L256.3,259.7 L258.3,260.0 L260.3,260.3 L262.3,260.6 L264.3,260.9 L266.3,261.2 L268.3,261.5 L270.3,261.8 L272.3,262.1 L274.3,262.5 L276.3,262.8 L278.3,263.2 L280.3,263.6 L282.3,264.0 L284.3,264.5 L286.3,264.9 L288.3,265.4 L290.3,265.9 L292.3,266.4 L294.3,266.9 L296.3,267.5 L298.3,268.1 L300.3,268.7 L302.3,269.3 L304.3,269.9 L306.3,270.6 L308.3,271.3 L310.3,272.0 L312.3,272.8 L314.3,273.6 L316.3,274.4 L318.3,275.2 L320.3,276.1 L322.3,277.0 L324.3,277.9 L326.3,278.8 L328.3,279.7 L330.3,280.7 L332.3,281.6 L334.3,282.6 L336.3,283.7 L338.3,284.7 L340.3,285.8 L342.3,286.9 L344.3,288.0 L346.3,289.1 L348.3,290.3 L350.3,291.5 L352.3,292.8 L354.3,294.0 L356.3,295.3 L358.3,296.6 L360.3,298.0 L362.3,299.3 L364.3,300.7 L366.3,302.2 L368.3,303.6 L370.3,305.1 L372.3,306.6 L374.3,308.1 L376.3,309.7 L378.3,311.3 L380.3,312.9 L382.3,314.5 L384.3,316.1 L386.3,317.8 L388.3,319.5 L390.3,321.2 L392.3,322.9 L394.3,324.7 L396.3,326.5 L398.3,328.2 L400.3,330.1 L402.3,331.9 L404.3,333.7 L406.3,335.6 L408.3,337.5 L410.3,339.5 L412.3,341.5 L414.3,343.5 L416.3,345.5 L418.3,347.6 L420.3,349.7 L422.3,351.8 L424.3,354.0 L426.3,356.2 L428.3,358.4 L430.3,360.7 L432.3,363.0 L434.3,365.3 L436.3,367.6 L438.3,370.0 L440.3,372.4 L442.3,374.9 L444.3,377.4 L446.3,379.9 L448.3,382.4 L450.3,385.0 L452.3,387.5 L454.3,390.1 L456.3,392.7 L458.3,395.3 L460.3,397.8 L462.3,400.4 L464.3,403.0 L466.3,405.6 L468.3,408.1 L470.3,410.7 L472.3,413.3 L474.3,415.9 L476.3,418.4 L478.3,421.0 L480.3,423.6 L482.3,426.1 L484.3,428.7 L486.3,431.2 L488.3,433.7 L490.3,436.3 L492.3,438.8 L494.3,441.3 L496.3,443.8 L498.3,446.4 L500.3,448.9 L502.3,451.3 L504.3,453.6 L506.3,456.0 L508.3,458.4 L510.3,460.8 L512.3,463.1 L514.3,465.5 L516.3,467.9 L518.3,470.3 L520.3,472.7 L522.3,475.2 L524.3,477.8 L526.3,480.4 L528.3,483.2 L530.3,485.9 L532.3,488.7 L534.3,491.4 L536.3,494.2 L538.3,496.9 L540.3,499.6 L542.3,502.4 L544.3,505.1 L546.3,507.8 L548.3,510.5 L550.3,513.2 L552.3,515.9 L554.3,518.6 L556.3,521.3 L558.3,524.0 L560.3,526.7 L562.3,529.3 L564.3,532.0 L566.3,534.7 L568.3,537.3 L570.3,540.0 L572.3,542.7 L574.3,545.3 L576.3,548.0 L578.3,550.7 L580.3,553.4 L582.3,556.0 L584.3,558.7 L586.3,561.4 L588.3,564.1 L590.3,566.8 L592.3,569.5 L594.3,572.3 L596.3,575.0 L598.3,577.7 L600.3,580.4 L602.3,583.2 L604.3,585.9 L606.3,588.6 L608.3,591.4 L610.3,594.1 L612.3,596.9 L614.3,599.6 L616.3,602.3 L618.3,605.1 L620.3,607.8 L622.3,610.6 L624.3,613.3 L626.3,616.1 L628.3,618.8 L630.3,621.6 L632.3,624.3 L634.3,627.1 L636.3,629.9 L638.3,632.6 L640.3,635.4 L642.3,638.1 L644.3,640.9 L646.3,643.7 L648.3,646.4 L650.3,649.2 L652.3,651.9 L654.3,654.7 L656.3,657.5 L658.3,660.2 L660.3,663.0 L662.3,665.8 L664.3,668.5 L666.3,671.3 L668.3,674.1 L670.3,676.8 L672.3,679.6 L674.3,682.4 L676.3,685.1 L678.3,687.9 L679.5,689.6" stroke="rgb(0,0,138)"/>
<path d="M172.3,235.9 L174.3,236.0 L176.3,236.0 L178.3,236.1 L180.3,236.2 L182.3,236.2 L184.3,236.3 L186.3,236.4 L188.3,236.5 L190.3,236.5 L192.3,236.6 L194.3,236.7 L196.3,236.8 L198.3,236.9 L200.3,237.0 L202.3,237.2 L204.3,237.3 L206.3,237.4 L208.3,237.5 L210.3,237.7 L212.3,237.8 L214.3,237.9 L216.3,238.1 L218.3,238.3 L220.3,238.4 L222.3,238.6 L224.3,238.8 L226.3,239.0 L228.3,239.1 L230.3,239.3 L232.3,239.5 L234.3,239.7 L236.3,240.0 L238.3,240.2 L240.3,240.4 L242.3,240.6 L244.3,240.9 L246.3,241.1 L248.3,241.4 L250.3,241.7 L252.3,242.0 L254.3,242.2 L256.3,242.5 L258.3,242.8 L260.3,243.2 L262.3,243.5 L264.3,243.8 L266.3,244.2 L268.3,244.6 L270.3,244.9 L272.3,245.3 L274.3,245.7 L276.3,246.2 L278.3,246.6 L280.3,247.0 L282.3,247.5 L284.3,248.0 L286.3,248.5 L288.3,249.1 L290.3,249.7 L292.3,250.3 L294.3,250.9 L296.3,251.5 L298.3,252.2 L300.3,252.9 L302.3,253.6 L304.3,254.3 L306.3,255.1 L308.3,255.9 L310.3,256.7 L312.3,257.6 L314.3,258.5 L316.3,259.4 L318.3,260.4 L320.3,261.3 L322.3,262.3 L324.3,263.4 L326.3,264.4 L328.3,265.4 L330.3,266.5 L332.3,267.6 L334.3,268.7 L336.3,269.8 L338.3,271.0 L340.3,272.2 L342.3,273.4 L344.3,274.7 L346.3,275.9 L348.3,277.2 L350.3,278.6 L352.3,279.9 L354.3,281.3 L356.3,282.7 L358.3,284.2 L360.3,285.6 L362.3,287.1 L364.3,288.7 L366.3,290.2 L368.3,291.8 L370.3,293.4 L372.3,295.0 L374.3,296.7 L376.3,298.4 L378.3,300.1 L380.3,301.8 L382.3,303.5 L384.3,305.3 L386.3,307.1 L388.3,308.9 L390.3,310.7 L392.3,312.6 L394.3,314.4 L396.3,316.3 L398.3,318.2 L400.3,320.1 L402.3,322.1 L404.3,324.0 L406.3,326.1 L408.3,328.1 L410.3,330.2 L412.3,332.4 L414.3,334.5 L416.3,336.8 L418.3,339.0 L420.3,341.3 L422.3,343.6 L424.3,346.0 L426.3,348.4 L428.3,350.8 L430.3,353.3 L432.3,355.8 L434.3,358.4 L436.3,360.9 L438.3,363.5 L440.3,366.2 L442.3,368.9 L444.3,371.6 L446.3,374.3 L448.3,377.1 L450.3,379.8 L452.3,382.6 L454.3,385.4 L456.3,388.2 L458.3,391.0 L460.3,393.8 L462.3,396.5 L464.3,399.3 L466.3,402.1 L468.3,404.8 L470.3,407.6 L472.3,410.3 L474.3,413.0 L476.3,415.7 L478.3,418.5 L480.3,421.2 L482.3,423.8 L484.3,426.5 L486.3,429.2 L488.3,431.8 L490.3,434.5 L492.3,437.1 L494.3,439.7 L496.3,442.3 L498.3,444.9 L500.3,447.4 L502.3,450.0 L504.3,452.5 L506.3,455.0 L508.3,457.6 L510.3,460.2 L512.3,462.9 L514.3,465.5 L516.3,468.2 L518.3,470.9 L520.3,473.6 L522.3,476.3 L524.3,479.0 L526.3,481.8 L528.3,484.5 L530.3,487.3 L532.3,490.1 L534.3,492.8 L536.3,495.6 L538.3,498.4 L540.3,501.1 L542.3,503.9 L544.3,506.6 L546.3,509.3 L548.3,512.1 L550.3,514.8 L552.3,517.5 L554.3,520.2 L556.3,522.9 L558.3,525.6 L560.3,528.3 L562.3,530.9 L564.3,533.6 L566.3,536.3 L568.3,539.0 L570.3,541.7 L572.3,544.3 L574.3,547.0 L576.3,549.7 L578.3,552.4 L580.3,555.1 L582.3,557.8 L584.3,560.5 L586.3,563.2 L588.3,565.9 L590.3,568.6 L592.3,571.3 L594.3,574.1 L596.3,576.8 L598.3,579.6 L600.3,582.3 L602.3,585.0 L604.3,587.8 L606.3,590.5 L608.3,593.3 L610.3,596.0 L612.3,598.8 L614.3,601.6 L616.3,604.3 L618.3,607.1 L620.3,609.8 L622.3,612.6 L624.3,615.4 L626.3,618.1 L628.3,620.9 L630.3,623.6 L632.3,626.4 L634.3,629.2 L636.3,632.0 L638.3,634.7 L640.3,637.5 L642.3,640.3 L644.3,643.0 L646.3,645.8 L648.3,648.6 L650.3,651.4 L652.3,654.1 L654.3,656.9 L656.3,659.7 L658.3,662.5 L660.3,665.2 L662.3,668.0 L664.3,670.8 L666.3,673.6 L668.3,676.4 L670.3,679.1 L672.3,681.9 L674.3,684.7 L676.3,687.5 L677.8,689.6" stroke="rgb(0,0,166)"/>
<path d="M172.3,224.4 L174.3,224.5 L176.3,224.6 L178.3,224.7 L180.3,224.8 L182.3,224.9 L184.3,224.9 L186.3,225.0 L188.3,225.1 L190.3,225.2 L192.3,225.3 L194.3,225.4 L196.3,225.6 L198.3,225.7 L200.3,225.8 L202.3,225.9 L204.3,226.1 L206.3,226.2 L208.3,226.4 L210.3,226.6 L212.3,226.7 L214.3,226.9 L216.3,227.1 L218.3,227.3 L220.3,227.5 L222.3,227.7 L224.3,227.9 L226.3,228.1 L228.3,228.3 L230.3,228.6 L232.3,228.8 L234.3,229.0 L236.3,229.3 L238.3,229.6 L240.3,229.8 L242.3,230.1 L244.3,230.4 L246.3,230.7 L248.3,231.0 L250.3,231.3 L252.3,231.7 L254.3,232.0 L256.3,232.3 L258.3,232.7 L260.3,233.1 L262.3,233.5 L264.3,233.9 L266.3,234.3 L268.3,234.7 L270.3,235.2 L272.3,235.6 L274.3,236.1 L276.3,236.6 L278.3,237.1 L280.3,237.6 L282.3,238.2 L284.3,238.8 L286.3,239.4 L288.3,240.0 L290.3,240.7 L292.3,241.4 L294.3,242.1 L296.3,242.8 L298.3,243.6 L300.3,244.4 L302.3,245.2 L304.3,246.1 L306.3,246.9 L308.3,247.9 L310.3,248.8 L312.3,249.8 L314.3,250.8 L316.3,251.9 L318.3,253.0 L320.3,254.1 L322.3,255.2 L324.3,256.3 L326.3,257.5 L328.3,258.7 L330.3,259.9 L332.3,261.1 L334.3,262.3 L336.3,263.6 L338.3,264.9 L340.3,266.2 L342.3,267.6 L344.3,269.0 L346.3,270.4 L348.3,271.9 L350.3,273.3 L352.3,274.8 L354.3,276.4 L356.3,277.9 L358.3,279.5 L360.3,281.1 L362.3,282.7 L364.3,284.4 L366.3,286.1 L368.3,287.8 L370.3,289.5 L372.3,291.3 L374.3,293.1 L376.3,294.9 L378.3,296.7 L380.3,298.6 L382.3,300.4 L384.3,302.3 L386.3,304.2 L388.3,306.2 L390.3,308.1 L392.3,310.1 L394.3,312.0 L396.3,314.0 L398.3,316.1 L400.3,318.1 L402.3,320.1 L404.3,322.2 L406.3,324.3 L408.3,326.5 L410.3,328.6 L412.3,330.8 L414.3,333.1 L416.3,335.4 L418.3,337.7 L420.3,340.0 L422.3,342.4 L424.3,344.8 L426.3,347.2 L428.3,349.7 L430.3,352.2 L432.3,354.7 L434.3,357.2 L436.3,359.8 L438.3,362.4 L440.3,365.1 L442.3,367.7 L444.3,370.5 L446.3,373.2 L448.3,375.9 L450.3,378.7 L452.3,381.5 L454.3,384.3 L456.3,387.0 L458.3,389.8 L460.3,392.6 L462.3,395.3 L464.3,398.1 L466.3,400.8 L468.3,403.6 L470.3,406.3 L472.3,409.0 L474.3,411.7 L476.3,414.4 L478.3,417.1 L480.3,419.8 L482.3,422.5 L484.3,425.2 L486.3,427.8 L488.3,430.5 L490.3,433.1 L492.3,435.7 L494.3,438.3 L496.3,440.9 L498.3,443.5 L500.3,446.1 L502.3,448.7 L504.3,451.3 L506.3,454.0 L508.3,456.8 L510.3,459.7 L512.3,462.5 L514.3,465.5 L516.3,468.4 L518.3,471.3 L520.3,474.3 L522.3,477.2 L524.3,480.1 L526.3,482.9 L528.3,485.7 L530.3,488.5 L532.3,491.3 L534.3,494.1 L536.3,496.8 L538.3,499.6 L540.3,502.4 L542.3,505.1 L544.3,507.9 L546.3,510.6 L548.3,513.4 L550.3,516.1 L552.3,518.8 L554.3,521.5 L556.3,524.2 L558.3,526.9 L560.3,529.6 L562.3,532.3 L564.3,535.0 L566.3,537.7 L568.3,540.4 L570.3,543.1 L572.3,545.8 L574.3,548.5 L576.3,551.2 L578.3,553.9 L580.3,556.6 L582.3,559.3 L584.3,562.0 L586.3,564.7 L588.3,567.4 L590.3,570.2 L592.3,572.9 L594.3,575.6 L596.3,578.4 L598.3,581.2 L600.3,583.9 L602.3,586.7 L604.3,589.4 L606.3,592.2 L608.3,594.9 L610.3,597.7 L612.3,600.5 L614.3,603.2 L616.3,606.0 L618.3,608.8 L620.3,611.6 L622.3,614.3 L624.3,617.1 L626.3,619.9 L628.3,622.7 L630.3,625.4 L632.3,628.2 L634.3,631.0 L636.3,633.8 L638.3,636.5 L640.3,639.3 L642.3,642.1 L644.3,644.9 L646.3,647.7 L648.3,650.5 L650.3,653.3 L652.3,656.0 L654.3,658.8 L656.3,661.6 L658.3,664.4 L660.3,667.2 L662.3,670.0 L664.3,672.8 L666.3,675.6 L668.3,678.4 L670.3,681.1 L672.3,683.9 L674.3,686.7 L676.3,689.5 L676.4,689.6" stroke="rgb(0,0,186)"/>
<path d="M172.3,207.7 L174.3,207.8 L176.3,207.9 L178.3,208.0 L180.3,208.1 L182.3,208.3 L184.3,208.4 L186.3,208.5 L188.3,208.7 L190.3,208.8 L192.3,208.9 L194.3,209.1 L196.3,209.3 L198.3,209.4 L200.3,209.6 L202.3,209.8 L204.3,210.0 L206.3,210.2 L208.3,210.5 L210.3,210.7 L212.3,210.9 L214.3,211.2 L216.3,211.4 L218.3,211.7 L220.3,212.0 L222.3,212.2 L224.3,212.5 L226.3,212.8 L228.3,213.2 L230.3,213.5 L232.3,213.8 L234.3,214.2 L236.3,214.5 L238.3,214.9 L240.3,215.3 L242.3,215.6 L244.3,216.1 L246.3,216.5 L248.3,216.9 L250.3,217.3 L252.3,217.8 L254.3,218.3 L256.3,218.7 L258.3,219.2 L260.3,219.7 L262.3,220.3 L264.3,220.8 L266.3,221.4 L268.3,222.0 L270.3,222.6 L272.3,223.2 L274.3,223.8 L276.3,224.5 L278.3,225.2 L280.3,225.9 L282.3,226.6 L284.3,227.4 L286.3,228.2 L288.3,229.1 L290.3,229.9 L292.3,230.8 L294.3,231.8 L296.3,232.8 L298.3,233.7 L300.3,234.8 L302.3,235.8 L304.3,236.9 L306.3,238.1 L308.3,239.3 L310.3,240.5 L312.3,241.7 L314.3,243.0 L316.3,244.4 L318.3,245.7 L320.3,247.1 L322.3,248.5 L324.3,249.9 L326.3,251.4 L328.3,252.9 L330.3,254.3 L332.3,255.8 L334.3,257.3 L336.3,258.9 L338.3,260.4 L340.3,262.0 L342.3,263.7 L344.3,265.3 L346.3,267.0 L348.3,268.8 L350.3,270.5 L352.3,272.3 L354.3,274.1 L356.3,275.9 L358.3,277.7 L360.3,279.6 L362.3,281.5 L364.3,283.4 L366.3,285.4 L368.3,287.3 L370.3,289.3 L372.3,291.3 L374.3,293.3 L376.3,295.4 L378.3,297.5 L380.3,299.5 L382.3,301.6 L384.3,303.7 L386.3,305.9 L388.3,308.0 L390.3,310.2 L392.3,312.3 L394.3,314.5 L396.3,316.7 L398.3,318.9 L400.3,321.1 L402.3,323.4 L404.3,325.6 L406.3,327.8 L408.3,330.1 L410.3,332.3 L412.3,334.6 L414.3,336.9 L416.3,339.1 L418.3,341.4 L420.3,343.8 L422.3,346.1 L424.3,348.4 L426.3,350.8 L428.3,353.2 L430.3,355.5 L432.3,357.9 L434.3,360.4 L436.3,362.8 L438.3,365.3 L440.3,367.8 L442.3,370.3 L444.3,372.8 L446.3,375.4 L448.3,378.0 L450.3,380.6 L452.3,383.2 L454.3,385.8 L456.3,388.4 L458.3,390.9 L460.3,393.5 L462.3,396.1 L464.3,398.7 L466.3,401.3 L468.3,403.8 L470.3,406.4 L472.3,409.0 L474.3,411.5 L476.3,414.1 L478.3,416.7 L480.3,419.2 L482.3,421.8 L484.3,424.3 L486.3,426.9 L488.3,429.4 L490.3,432.0 L492.3,434.5 L494.3,437.1 L496.3,439.6 L498.3,442.2 L500.3,444.8 L502.3,447.4 L504.3,450.1 L506.3,453.0 L508.3,456.0 L510.3,459.1 L512.3,462.2 L514.3,465.4 L516.3,468.6 L518.3,471.8 L520.3,475.0 L522.3,478.1 L524.3,481.1 L526.3,484.1 L528.3,486.9 L530.3,489.7 L532.3,492.5 L534.3,495.3 L536.3,498.1 L538.3,500.9 L540.3,503.6 L542.3,506.4 L544.3,509.2 L546.3,511.9 L548.3,514.7 L550.3,517.4 L552.3,520.2 L554.3,522.9 L556.3,525.6 L558.3,528.3 L560.3,531.0 L562.3,533.7 L564.3,536.4 L566.3,539.1 L568.3,541.8 L570.3,544.5 L572.3,547.2 L574.3,550.0 L576.3,552.7 L578.3,555.4 L580.3,558.1 L582.3,560.8 L584.3,563.5 L586.3,566.2 L588.3,569.0 L590.3,571.7 L592.3,574.5 L594.3,577.2 L596.3,580.0 L598.3,582.7 L600.3,585.5 L602.3,588.3 L604.3,591.1 L606.3,593.8 L608.3,596.6 L610.3,599.4 L612.3,602.2 L614.3,604.9 L616.3,607.7 L618.3,610.5 L620.3,613.3 L622.3,616.1 L624.3,618.8 L626.3,621.6 L628.3,624.4 L630.3,627.2 L632.3,630.0 L634.3,632.8 L636.3,635.6 L638.3,638.4 L640.3,641.2 L642.3,644.0 L644.3,646.8 L646.3,649.6 L648.3,652.4 L650.3,655.2 L652.3,657.9 L654.3,660.7 L656.3,663.5 L658.3,666.3 L660.3,669.1 L662.3,671.9 L664.3,674.8 L666.3,677.6 L668.3,680.4 L670.3,683.2 L672.3,686.0 L674.3,688.8 L674.9,689.6" stroke="rgb(0,0,202)"/>
<path d="M172.3,187.5 L174.3,187.7 L176.3,187.8 L178.3,188.0 L180.3,188.1 L182.3,188.3 L184.3,188.4 L186.3,188.6 L188.3,188.8 L190.3,189.0 L192.3,189.2 L194.3,189.4 L196.3,189.6 L198.3,189.8 L200.3,190.1 L202.3,190.3 L204.3,190.6 L206.3,190.9 L208.3,191.2 L210.3,191.5 L212.3,191.8 L214.3,192.1 L216.3,192.4 L218.3,192.8 L220.3,193.1 L222.3,193.5 L224.3,193.9 L226.3,194.3 L228.3,194.7 L230.3,195.1 L232.3,195.5 L234.3,196.0 L236.3,196.4 L238.3,196.9 L240.3,197.4 L242.3,197.9 L244.3,198.4 L246.3,198.9 L248.3,199.5 L250.3,200.0 L252.3,200.6 L254.3,201.2 L256.3,201.8 L258.3,202.4 L260.3,203.1 L262.3,203.8 L264.3,204.4 L266.3,205.2 L268.3,205.9 L270.3,206.6 L272.3,207.4 L274.3,208.2 L276.3,209.0 L278.3,209.9 L280.3,210.7 L282.3,211.7 L284.3,212.6 L286.3,213.6 L288.3,214.6 L290.3,215.7 L292.3,216.8 L294.3,218.0 L296.3,219.1 L298.3,220.3 L300.3,221.6 L302.3,222.9 L304.3,224.2 L306.3,225.5 L308.3,226.9 L310.3,228.4 L312.3,229.9 L314.3,231.4 L316.3,233.0 L318.3,234.6 L320.3,236.2 L322.3,237.8 L324.3,239.5 L326.3,241.2 L328.3,242.9 L330.3,244.5 L332.3,246.2 L334.3,248.0 L336.3,249.7 L338.3,251.5 L340.3,253.4 L342.3,255.2 L344.3,257.1 L346.3,259.0 L348.3,260.9 L350.3,262.9 L352.3,264.8 L354.3,266.8 L356.3,268.8 L358.3,270.9 L360.3,272.9 L362.3,275.0 L364.3,277.1 L366.3,279.3 L368.3,281.4 L370.3,283.6 L372.3,285.8 L374.3,287.9 L376.3,290.2 L378.3,292.4 L380.3,294.6 L382.3,296.9 L384.3,299.1 L386.3,301.4 L388.3,303.7 L390.3,306.0 L392.3,308.3 L394.3,310.6 L396.3,313.0 L398.3,315.3 L400.3,317.6 L402.3,320.0 L404.3,322.3 L406.3,324.6 L408.3,327.0 L410.3,329.3 L412.3,331.7 L414.3,334.1 L416.3,336.4 L418.3,338.8 L420.3,341.2 L422.3,343.6 L424.3,346.0 L426.3,348.4 L428.3,350.9 L430.3,353.3 L432.3,355.8 L434.3,358.2 L436.3,360.7 L438.3,363.2 L440.3,365.8 L442.3,368.3 L444.3,370.9 L446.3,373.5 L448.3,376.1 L450.3,378.7 L452.3,381.4 L454.3,384.0 L456.3,386.6 L458.3,389.2 L460.3,391.8 L462.3,394.4 L464.3,397.0 L466.3,399.6 L468.3,402.2 L470.3,404.8 L472.3,407.4 L474.3,410.0 L476.3,412.5 L478.3,415.1 L480.3,417.7 L482.3,420.3 L484.3,422.8 L486.3,425.4 L488.3,428.0 L490.3,430.5 L492.3,433.1 L494.3,435.7 L496.3,438.2 L498.3,440.8 L500.3,443.4 L502.3,446.1 L504.3,448.9 L506.3,452.0 L508.3,455.2 L510.3,458.5 L512.3,461.9 L514.3,465.3 L516.3,468.8 L518.3,472.2 L520.3,475.7 L522.3,479.0 L524.3,482.2 L526.3,485.3 L528.3,488.1 L530.3,490.9 L532.3,493.7 L534.3,496.5 L536.3,499.3 L538.3,502.1 L540.3,504.9 L542.3,507.7 L544.3,510.5 L546.3,513.2 L548.3,516.0 L550.3,518.7 L552.3,521.5 L554.3,524.2 L556.3,527.0 L558.3,529.7 L560.3,532.4 L562.3,535.1 L564.3,537.8 L566.3,540.6 L568.3,543.3 L570.3,546.0 L572.3,548.7 L574.3,551.4 L576.3,554.1 L578.3,556.8 L580.3,559.6 L582.3,562.3 L584.3,565.0 L586.3,567.8 L588.3,570.5 L590.3,573.3 L592.3,576.0 L594.3,578.8 L596.3,581.6 L598.3,584.3 L600.3,587.1 L602.3,589.9 L604.3,592.7 L606.3,595.5 L608.3,598.3 L610.3,601.0 L612.3,603.8 L614.3,606.6 L616.3,609.4 L618.3,612.2 L620.3,615.0 L622.3,617.8 L624.3,620.6 L626.3,623.4 L628.3,626.2 L630.3,629.0 L632.3,631.8 L634.3,634.6 L636.3,637.4 L638.3,640.2 L640.3,643.0 L642.3,645.8 L644.3,648.6 L646.3,651.4 L648.3,654.2 L650.3,657.0 L652.3,659.9 L654.3,662.7 L656.3,665.5 L658.3,668.3 L660.3,671.1 L662.3,673.9 L664.3,676.7 L666.3,679.5 L668.3,682.3 L670.3,685.2 L672.3,688.0 L673.5,689.6" stroke="rgb(0,0,222)"/>
<path d="M172.3,142.7 L174.3,143.0 L176.3,143.3 L178.3,143.6 L180.3,143.9 L182.3,144.3 L184.3,144.6 L186.3,145.0 L188.3,145.3 L190.3,145.7 L192.3,146.1 L194.3,146.5 L196.3,147.0 L198.3,147.4 L200.3,147.9 L202.3,148.4 L204.3,149.0 L206.3,149.5 L208.3,150.1 L210.3,150.7 L212.3,151.3 L214.3,151.9 L216.3,152.6 L218.3,153.2 L220.3,153.9 L222.3,154.6 L224.3,155.4 L226.3,156.1 L228.3,156.9 L230.3,157.7 L232.3,158.5 L234.3,159.3 L236.3,160.2 L238.3,161.0 L240.3,161.9 L242.3,162.8 L244.3,163.8 L246.3,164.7 L248.3,165.7 L250.3,166.7 L252.3,167.7 L254.3,168.8 L256.3,169.9 L258.3,171.0 L260.3,172.1 L262.3,173.2 L264.3,174.4 L266.3,175.6 L268.3,176.9 L270.3,178.1 L272.3,179.4 L274.3,180.7 L276.3,182.1 L278.3,183.4 L280.3,184.8 L282.3,186.3 L284.3,187.8 L286.3,189.4 L288.3,191.0 L290.3,192.7 L292.3,194.4 L294.3,196.2 L296.3,197.9 L298.3,199.7 L300.3,201.6 L302.3,203.5 L304.3,205.4 L306.3,207.4 L308.3,209.4 L310.3,211.5 L312.3,213.6 L314.3,215.8 L316.3,217.9 L318.3,220.2 L320.3,222.4 L322.3,224.6 L324.3,226.9 L326.3,229.1 L328.3,231.3 L330.3,233.6 L332.3,235.8 L334.3,238.1 L336.3,240.3 L338.3,242.6 L340.3,244.9 L342.3,247.3 L344.3,249.6 L346.3,252.0 L348.3,254.4 L350.3,256.8 L352.3,259.2 L354.3,261.7 L356.3,264.1 L358.3,266.6 L360.3,269.0 L362.3,271.5 L364.3,274.0 L366.3,276.5 L368.3,279.0 L370.3,281.5 L372.3,284.1 L374.3,286.6 L376.3,289.2 L378.3,291.7 L380.3,294.3 L382.3,296.8 L384.3,299.4 L386.3,301.9 L388.3,304.5 L390.3,307.1 L392.3,309.7 L394.3,312.2 L396.3,314.8 L398.3,317.4 L400.3,319.9 L402.3,322.5 L404.3,325.0 L406.3,327.5 L408.3,330.0 L410.3,332.4 L412.3,334.9 L414.3,337.3 L416.3,339.7 L418.3,342.1 L420.3,344.5 L422.3,346.9 L424.3,349.3 L426.3,351.6 L428.3,354.0 L430.3,356.4 L432.3,358.7 L434.3,361.1 L436.3,363.5 L438.3,365.9 L440.3,368.3 L442.3,370.7 L444.3,373.1 L446.3,375.6 L448.3,378.0 L450.3,380.5 L452.3,382.9 L454.3,385.4 L456.3,387.8 L458.3,390.3 L460.3,392.7 L462.3,395.1 L464.3,397.6 L466.3,400.0 L468.3,402.4 L470.3,404.8 L472.3,407.3 L474.3,409.7 L476.3,412.1 L478.3,414.6 L480.3,417.0 L482.3,419.5 L484.3,421.9 L486.3,424.4 L488.3,426.9 L490.3,429.4 L492.3,431.9 L494.3,434.4 L496.3,436.9 L498.3,439.5 L500.3,442.0 L502.3,444.8 L504.3,447.8 L506.3,451.1 L508.3,454.5 L510.3,458.1 L512.3,461.8 L514.3,465.6 L516.3,469.4 L518.3,473.1 L520.3,476.9 L522.3,480.4 L524.3,483.9 L526.3,487.1 L528.3,490.0 L530.3,492.8 L532.3,495.6 L534.3,498.4 L536.3,501.3 L538.3,504.1 L540.3,506.9 L542.3,509.7 L544.3,512.5 L546.3,515.2 L548.3,518.0 L550.3,520.8 L552.3,523.5 L554.3,526.3 L556.3,529.0 L558.3,531.8 L560.3,534.5 L562.3,537.3 L564.3,540.0 L566.3,542.7 L568.3,545.5 L570.3,548.2 L572.3,550.9 L574.3,553.7 L576.3,556.4 L578.3,559.1 L580.3,561.9 L582.3,564.6 L584.3,567.4 L586.3,570.1 L588.3,572.9 L590.3,575.7 L592.3,578.4 L594.3,581.2 L596.3,584.0 L598.3,586.8 L600.3,589.6 L602.3,592.4 L604.3,595.2 L606.3,598.0 L608.3,600.8 L610.3,603.6 L612.3,606.4 L614.3,609.2 L616.3,612.0 L618.3,614.8 L620.3,617.6 L622.3,620.5 L624.3,623.3 L626.3,626.1 L628.3,628.9 L630.3,631.7 L632.3,634.5 L634.3,637.4 L636.3,640.2 L638.3,643.0 L640.3,645.8 L642.3,648.7 L644.3,651.5 L646.3,654.3 L648.3,657.1 L650.3,660.0 L652.3,662.8 L654.3,665.6 L656.3,668.4 L658.3,671.3 L660.3,674.1 L662.3,676.9 L664.3,679.8 L666.3,682.6 L668.3,685.4 L670.3,688.3 L671.3,689.6" stroke="rgb(0,0,245)"/>
<path d="M172.3,92.4 L174.3,93.0 L176.3,93.7 L178.3,94.3 L180.3,94.9 L182.3,95.6 L184.3,96.3 L186.3,96.9 L188.3,97.6 L190.3,98.4 L192.3,99.1 L194.3,100.0 L196.3,100.8 L198.3,101.7 L200.3,102.6 L202.3,103.6 L204.3,104.6 L206.3,105.6 L208.3,106.6 L210.3,107.7 L212.3,108.8 L214.3,109.9 L216.3,111.1 L218.3,112.3 L220.3,113.5 L222.3,114.8 L224.3,116.0 L226.3,117.3 L228.3,118.7 L230.3,120.0 L232.3,121.4 L234.3,122.8 L236.3,124.2 L238.3,125.6 L240.3,127.1 L242.3,128.6 L244.3,130.1 L246.3,131.6 L248.3,133.1 L250.3,134.7 L252.3,136.3 L254.3,137.9 L256.3,139.6 L258.3,141.3 L260.3,143.0 L262.3,144.7 L264.3,146.5 L266.3,148.3 L268.3,150.1 L270.3,151.9 L272.3,153.8 L274.3,155.7 L276.3,157.6 L278.3,159.5 L280.3,161.5 L282.3,163.5 L284.3,165.6 L286.3,167.8 L288.3,170.0 L290.3,172.2 L292.3,174.5 L294.3,176.8 L296.3,179.2 L298.3,181.5 L300.3,183.9 L302.3,186.3 L304.3,188.8 L306.3,191.3 L308.3,193.9 L310.3,196.5 L312.3,199.1 L314.3,201.8 L316.3,204.4 L318.3,207.1 L320.3,209.8 L322.3,212.5 L324.3,215.2 L326.3,217.8 L328.3,220.5 L330.3,223.1 L332.3,225.7 L334.3,228.3 L336.3,230.9 L338.3,233.6 L340.3,236.2 L342.3,238.9 L344.3,241.6 L346.3,244.3 L348.3,246.9 L350.3,249.6 L352.3,252.3 L354.3,255.1 L356.3,257.8 L358.3,260.5 L360.3,263.2 L362.3,265.9 L364.3,268.7 L366.3,271.4 L368.3,274.1 L370.3,276.9 L372.3,279.6 L374.3,282.3 L376.3,285.1 L378.3,287.8 L380.3,290.5 L382.3,293.2 L384.3,296.0 L386.3,298.7 L388.3,301.4 L390.3,304.1 L392.3,306.9 L394.3,309.6 L396.3,312.3 L398.3,315.0 L400.3,317.7 L402.3,320.3 L404.3,323.0 L406.3,325.6 L408.3,328.1 L410.3,330.7 L412.3,333.2 L414.3,335.7 L416.3,338.1 L418.3,340.6 L420.3,343.0 L422.3,345.5 L424.3,347.9 L426.3,350.3 L428.3,352.7 L430.3,355.1 L432.3,357.5 L434.3,359.8 L436.3,362.2 L438.3,364.6 L440.3,367.0 L442.3,369.5 L444.3,371.9 L446.3,374.3 L448.3,376.8 L450.3,379.3 L452.3,381.7 L454.3,384.2 L456.3,386.6 L458.3,389.0 L460.3,391.5 L462.3,393.9 L464.3,396.3 L466.3,398.7 L468.3,401.1 L470.3,403.5 L472.3,405.9 L474.3,408.4 L476.3,410.8 L478.3,413.2 L480.3,415.7 L482.3,418.1 L484.3,420.6 L486.3,423.0 L488.3,425.5 L490.3,428.0 L492.3,430.5 L494.3,433.0 L496.3,435.5 L498.3,438.1 L500.3,440.7 L502.3,443.5 L504.3,446.8 L506.3,450.3 L508.3,454.1 L510.3,458.2 L512.3,462.4 L514.3,466.6 L516.3,470.9 L518.3,475.2 L520.3,479.4 L522.3,483.3 L524.3,487.1 L526.3,490.5 L528.3,493.5 L530.3,496.3 L532.3,499.2 L534.3,502.0 L536.3,504.9 L538.3,507.7 L540.3,510.6 L542.3,513.4 L544.3,516.2 L546.3,519.0 L548.3,521.9 L550.3,524.7 L552.3,527.4 L554.3,530.2 L556.3,533.0 L558.3,535.8 L560.3,538.6 L562.3,541.3 L564.3,544.1 L566.3,546.9 L568.3,549.6 L570.3,552.4 L572.3,555.2 L574.3,557.9 L576.3,560.7 L578.3,563.5 L580.3,566.2 L582.3,569.0 L584.3,571.8 L586.3,574.6 L588.3,577.4 L590.3,580.2 L592.3,583.0 L594.3,585.8 L596.3,588.6 L598.3,591.5 L600.3,594.3 L602.3,597.1 L604.3,600.0 L606.3,602.8 L608.3,605.6 L610.3,608.5 L612.3,611.3 L614.3,614.2 L616.3,617.0 L618.3,619.8 L620.3,622.7 L622.3,625.5 L624.3,628.4 L626.3,631.2 L628.3,634.1 L630.3,636.9 L632.3,639.8 L634.3,642.6 L636.3,645.5 L638.3,648.3 L640.3,651.2 L642.3,654.1 L644.3,656.9 L646.3,659.8 L648.3,662.6 L650.3,665.5 L652.3,668.4 L654.3,671.2 L656.3,674.1 L658.3,676.9 L660.3,679.8 L662.3,682.7 L664.3,685.5 L666.3,688.4 L667.1,689.6" stroke="rgb(0,0,255)"/>
</g>
<g stroke="#000" stroke-width="1.4" fill="none" stroke-linecap="butt">
<rect x="92.6" y="12.8" width="654.4" height="676.8"/>
<path d="M135.3,689.6v-7M135.3,12.8v7M165.6,689.6v-7M165.6,12.8v7M189.1,689.6v-7M189.1,12.8v7M208.3,689.6v-7M208.3,12.8v7M224.5,689.6v-7M224.5,12.8v7M238.6,689.6v-7M238.6,12.8v7M251.0,689.6v-7M251.0,12.8v7M262.1,689.6v-14M262.1,12.8v14M335.1,689.6v-7M335.1,12.8v7M377.8,689.6v-7M377.8,12.8v7M408.1,689.6v-7M408.1,12.8v7M431.6,689.6v-7M431.6,12.8v7M450.8,689.6v-7M450.8,12.8v7M467.0,689.6v-7M467.0,12.8v7M481.1,689.6v-7M481.1,12.8v7M493.5,689.6v-7M493.5,12.8v7M504.6,689.6v-14M504.6,12.8v14M577.6,689.6v-7M577.6,12.8v7M620.3,689.6v-7M620.3,12.8v7M650.6,689.6v-7M650.6,12.8v7M674.1,689.6v-7M674.1,12.8v7M693.3,689.6v-7M693.3,12.8v7M709.5,689.6v-7M709.5,12.8v7M723.6,689.6v-7M723.6,12.8v7M736.0,689.6v-7M736.0,12.8v7M92.6,638.7h7M747.0,638.7h-7M92.6,608.9h7M747.0,608.9h-7M92.6,587.7h7M747.0,587.7h-7M92.6,571.3h7M747.0,571.3h-7M92.6,557.9h7M747.0,557.9h-7M92.6,546.6h7M747.0,546.6h-7M92.6,536.8h7M747.0,536.8h-7M92.6,528.1h7M747.0,528.1h-7M92.6,520.4h14M747.0,520.4h-14M92.6,469.5h7M747.0,469.5h-7M92.6,439.7h7M747.0,439.7h-7M92.6,418.5h7M747.0,418.5h-7M92.6,402.1h7M747.0,402.1h-7M92.6,388.7h7M747.0,388.7h-7M92.6,377.4h7M747.0,377.4h-7M92.6,367.6h7M747.0,367.6h-7M92.6,358.9h7M747.0,358.9h-7M92.6,351.2h14M747.0,351.2h-14M92.6,300.3h7M747.0,300.3h-7M92.6,270.5h7M747.0,270.5h-7M92.6,249.3h7M747.0,249.3h-7M92.6,232.9h7M747.0,232.9h-7M92.6,219.5h7M747.0,219.5h-7M92.6,208.2h7M747.0,208.2h-7M92.6,198.4h7M747.0,198.4h-7M92.6,189.7h7M747.0,189.7h-7M92.6,182.0h14M747.0,182.0h-14M92.6,131.1h7M747.0,131.1h-7M92.6,101.3h7M747.0,101.3h-7M92.6,80.1h7M747.0,80.1h-7M92.6,63.7h7M747.0,63.7h-7M92.6,50.3h7M747.0,50.3h-7M92.6,39.0h7M747.0,39.0h-7M92.6,29.2h7M747.0,29.2h-7M92.6,20.5h7M747.0,20.5h-7"/>
</g>
<g font-family="'Liberation Sans', sans-serif" fill="#000">
<text x="76.9" y="19.7" font-size="27" text-anchor="end">1000</text>
<text x="76.9" y="188.9" font-size="27" text-anchor="end">100</text>
<text x="76.9" y="358.1" font-size="27" text-anchor="end">10</text>
<text x="75.2" y="527.3" font-size="27" text-anchor="end">1</text>
<text x="75.6" y="696.5" font-size="27" text-anchor="end">0.1</text>
<text x="260.9" y="727" font-size="27" text-anchor="middle">0.01</text>
<text x="502.7" y="727" font-size="27" text-anchor="middle">0.1</text>
<text x="747.6" y="727" font-size="27" text-anchor="middle">1</text>
<text transform="translate(26.7,412) rotate(-90)" font-size="28"><tspan textLength="103.2" lengthAdjust="spacingAndGlyphs">I(q) / cm</tspan><tspan font-size="18.5" dy="-11.5" dx="1">-1</tspan></text>
<text x="381" y="773.1" font-size="28"><tspan textLength="58.8" lengthAdjust="spacingAndGlyphs">q / Å</tspan><tspan font-size="18" dy="-11.2" dx="2.2">-1</tspan></text>
<text x="120.3" y="62.6" font-size="27.5"><tspan textLength="95.6" lengthAdjust="spacingAndGlyphs">T = 242</tspan><tspan font-size="20.5" dy="-9.6" dx="-0.6">o</tspan><tspan dy="9.6" dx="-0.4" textLength="17.6" lengthAdjust="spacingAndGlyphs">C</tspan></text>
<text x="120.3" y="422.0" font-size="27.5"><tspan textLength="95.6" lengthAdjust="spacingAndGlyphs">T = 120</tspan><tspan font-size="20.5" dy="-9.6" dx="-0.6">o</tspan><tspan dy="9.6" dx="-0.4" textLength="17.6" lengthAdjust="spacingAndGlyphs">C</tspan></text>
</g>
</svg>
</body>
</html>
